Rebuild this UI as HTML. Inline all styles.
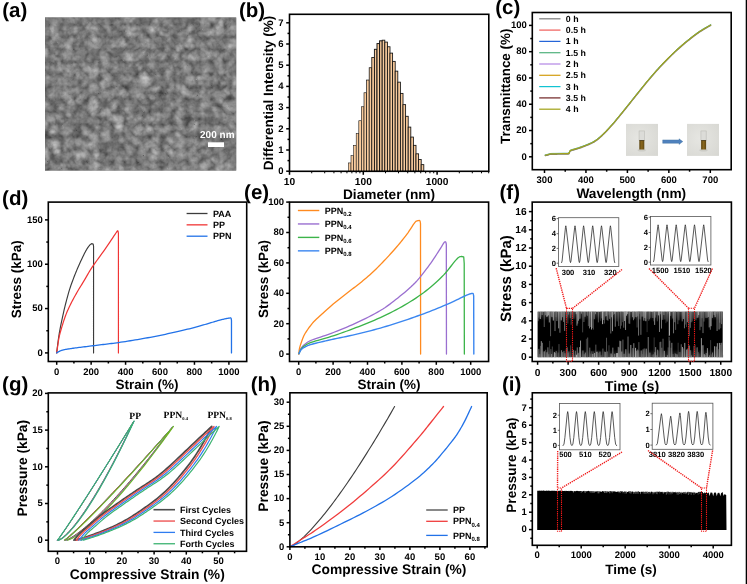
<!DOCTYPE html>
<html><head><meta charset="utf-8"><title>figure</title>
<style>
html,body{margin:0;padding:0;background:#fff;}
body{width:747px;height:584px;overflow:hidden;font-family:"Liberation Sans",sans-serif;}
svg{display:block;opacity:0.999;text-rendering:geometricPrecision;font-family:"Liberation Sans",sans-serif;}
</style></head><body>
<svg width="747" height="584" viewBox="0 0 747 584">
<rect width="747" height="584" fill="#fff"/>
<defs>
<filter id="sem" x="0" y="0" width="100%" height="100%" color-interpolation-filters="sRGB">
  <feTurbulence type="turbulence" baseFrequency="0.08" numOctaves="2" seed="23" result="t"/>
  <feColorMatrix in="t" type="matrix" values="0.42 0.42 0 0 0.27  0.42 0.42 0 0 0.27  0.42 0.42 0 0 0.27  0 0 0 0 1" result="tc"/>
  <feTurbulence type="fractalNoise" baseFrequency="0.12" numOctaves="3" seed="11" result="n"/>
  <feColorMatrix in="n" type="matrix" values="0.44 0.44 0 0 0.03  0.44 0.44 0 0 0.03  0.44 0.44 0 0 0.03  0 0 0 0 1" result="nc"/>
  <feComposite in="tc" in2="nc" operator="arithmetic" k1="0" k2="0.53" k3="0.61" k4="-0.06"/>
  <feGaussianBlur stdDeviation="0.65"/>
</filter>
<clipPath id="semclip"><rect x="45" y="17.5" width="191.2" height="153"/></clipPath>
</defs>
<rect x="45" y="17.5" width="191.2" height="153" fill="#777"/>
<rect x="45" y="17.5" width="191.2" height="153" filter="url(#sem)" clip-path="url(#semclip)"/>
<text x="217.3" y="137.8" font-size="10" text-anchor="middle" font-weight="bold" fill="#fff" >200 nm</text>
<rect x="208" y="142.3" width="16" height="4.7" fill="#fff"/>
<text x="2.2" y="16.9" font-size="20.5" text-anchor="start" font-weight="bold" fill="#000" >(a)</text>
<rect x="348.4" y="162.93" width="2.6" height="8.37" fill="#f8cb9d" stroke="#111" stroke-width="0.55"/>
<rect x="351" y="155.72" width="2.6" height="15.58" fill="#f8cb9d" stroke="#111" stroke-width="0.55"/>
<rect x="353.6" y="145.34" width="2.6" height="25.96" fill="#f8cb9d" stroke="#111" stroke-width="0.56"/>
<rect x="356.2" y="133.68" width="2.6" height="37.62" fill="#f8cb9d" stroke="#111" stroke-width="0.56"/>
<rect x="358.8" y="120.74" width="2.6" height="50.56" fill="#f8cb9d" stroke="#111" stroke-width="0.58"/>
<rect x="361.4" y="106.75" width="2.6" height="64.55" fill="#f8cb9d" stroke="#111" stroke-width="0.6"/>
<rect x="364" y="92.76" width="2.6" height="78.54" fill="#f8cb9d" stroke="#111" stroke-width="0.63"/>
<rect x="366.6" y="80.04" width="2.6" height="91.26" fill="#f8cb9d" stroke="#111" stroke-width="0.68"/>
<rect x="369.2" y="67.74" width="2.6" height="103.56" fill="#f8cb9d" stroke="#111" stroke-width="0.75"/>
<rect x="371.8" y="57.57" width="2.6" height="113.73" fill="#f8cb9d" stroke="#111" stroke-width="0.83"/>
<rect x="374.4" y="49.3" width="2.6" height="122" fill="#f8cb9d" stroke="#111" stroke-width="0.9"/>
<rect x="377" y="43.58" width="2.6" height="127.72" fill="#f8cb9d" stroke="#111" stroke-width="0.96"/>
<rect x="379.6" y="40.82" width="2.6" height="130.48" fill="#f8cb9d" stroke="#111" stroke-width="1"/>
<rect x="382.2" y="40.18" width="2.6" height="131.12" fill="#f8cb9d" stroke="#111" stroke-width="0.85"/>
<rect x="384.8" y="42.09" width="2.6" height="129.21" fill="#f8cb9d" stroke="#111" stroke-width="0.85"/>
<rect x="387.4" y="46.76" width="2.6" height="124.54" fill="#f8cb9d" stroke="#111" stroke-width="0.85"/>
<rect x="390" y="53.12" width="2.6" height="118.18" fill="#f8cb9d" stroke="#111" stroke-width="0.85"/>
<rect x="392.6" y="61.38" width="2.6" height="109.92" fill="#f8cb9d" stroke="#111" stroke-width="0.85"/>
<rect x="395.2" y="71.14" width="2.6" height="100.16" fill="#f8cb9d" stroke="#111" stroke-width="0.85"/>
<rect x="397.8" y="82.16" width="2.6" height="89.14" fill="#f8cb9d" stroke="#111" stroke-width="0.85"/>
<rect x="400.4" y="93.4" width="2.6" height="77.9" fill="#f8cb9d" stroke="#111" stroke-width="0.85"/>
<rect x="403" y="104.63" width="2.6" height="66.67" fill="#f8cb9d" stroke="#111" stroke-width="0.85"/>
<rect x="405.6" y="116.29" width="2.6" height="55.01" fill="#f8cb9d" stroke="#111" stroke-width="0.85"/>
<rect x="408.2" y="127.1" width="2.6" height="44.2" fill="#f8cb9d" stroke="#111" stroke-width="0.85"/>
<rect x="410.8" y="137.07" width="2.6" height="34.23" fill="#f8cb9d" stroke="#111" stroke-width="0.85"/>
<rect x="413.4" y="145.34" width="2.6" height="25.96" fill="#f8cb9d" stroke="#111" stroke-width="0.85"/>
<rect x="416" y="153.82" width="2.6" height="17.48" fill="#f8cb9d" stroke="#111" stroke-width="0.85"/>
<rect x="418.6" y="159.54" width="2.6" height="11.76" fill="#f8cb9d" stroke="#111" stroke-width="0.85"/>
<rect x="421.2" y="164.63" width="2.6" height="6.67" fill="#f8cb9d" stroke="#111" stroke-width="0.85"/>
<rect x="289.5" y="14.3" width="199.3" height="157" fill="none" stroke="#000" stroke-width="1.6"/>
<line x1="286.2" y1="171.2" x2="289.5" y2="171.2" stroke="#000" stroke-width="1.5" />
<line x1="286.2" y1="150" x2="289.5" y2="150" stroke="#000" stroke-width="1.5" />
<line x1="286.2" y1="128.8" x2="289.5" y2="128.8" stroke="#000" stroke-width="1.5" />
<line x1="286.2" y1="107.6" x2="289.5" y2="107.6" stroke="#000" stroke-width="1.5" />
<line x1="286.2" y1="86.4" x2="289.5" y2="86.4" stroke="#000" stroke-width="1.5" />
<line x1="286.2" y1="65.2" x2="289.5" y2="65.2" stroke="#000" stroke-width="1.5" />
<line x1="286.2" y1="44" x2="289.5" y2="44" stroke="#000" stroke-width="1.5" />
<line x1="286.2" y1="22.8" x2="289.5" y2="22.8" stroke="#000" stroke-width="1.5" />
<line x1="287.5" y1="160.6" x2="289.5" y2="160.6" stroke="#000" stroke-width="1.5" />
<line x1="287.5" y1="139.4" x2="289.5" y2="139.4" stroke="#000" stroke-width="1.5" />
<line x1="287.5" y1="118.2" x2="289.5" y2="118.2" stroke="#000" stroke-width="1.5" />
<line x1="287.5" y1="97" x2="289.5" y2="97" stroke="#000" stroke-width="1.5" />
<line x1="287.5" y1="75.8" x2="289.5" y2="75.8" stroke="#000" stroke-width="1.5" />
<line x1="287.5" y1="54.6" x2="289.5" y2="54.6" stroke="#000" stroke-width="1.5" />
<line x1="287.5" y1="33.4" x2="289.5" y2="33.4" stroke="#000" stroke-width="1.5" />
<line x1="289.5" y1="171.3" x2="289.5" y2="174.8" stroke="#000" stroke-width="1.5" />
<line x1="363.3" y1="171.3" x2="363.3" y2="174.8" stroke="#000" stroke-width="1.5" />
<line x1="437.1" y1="171.3" x2="437.1" y2="174.8" stroke="#000" stroke-width="1.5" />
<line x1="311.72" y1="171.3" x2="311.72" y2="173.3" stroke="#000" stroke-width="1.0" />
<line x1="324.71" y1="171.3" x2="324.71" y2="173.3" stroke="#000" stroke-width="1.0" />
<line x1="333.93" y1="171.3" x2="333.93" y2="173.3" stroke="#000" stroke-width="1.0" />
<line x1="341.08" y1="171.3" x2="341.08" y2="173.3" stroke="#000" stroke-width="1.0" />
<line x1="346.93" y1="171.3" x2="346.93" y2="173.3" stroke="#000" stroke-width="1.0" />
<line x1="351.87" y1="171.3" x2="351.87" y2="173.3" stroke="#000" stroke-width="1.0" />
<line x1="356.15" y1="171.3" x2="356.15" y2="173.3" stroke="#000" stroke-width="1.0" />
<line x1="359.92" y1="171.3" x2="359.92" y2="173.3" stroke="#000" stroke-width="1.0" />
<line x1="385.52" y1="171.3" x2="385.52" y2="173.3" stroke="#000" stroke-width="1.0" />
<line x1="398.51" y1="171.3" x2="398.51" y2="173.3" stroke="#000" stroke-width="1.0" />
<line x1="407.73" y1="171.3" x2="407.73" y2="173.3" stroke="#000" stroke-width="1.0" />
<line x1="414.88" y1="171.3" x2="414.88" y2="173.3" stroke="#000" stroke-width="1.0" />
<line x1="420.73" y1="171.3" x2="420.73" y2="173.3" stroke="#000" stroke-width="1.0" />
<line x1="425.67" y1="171.3" x2="425.67" y2="173.3" stroke="#000" stroke-width="1.0" />
<line x1="429.95" y1="171.3" x2="429.95" y2="173.3" stroke="#000" stroke-width="1.0" />
<line x1="433.72" y1="171.3" x2="433.72" y2="173.3" stroke="#000" stroke-width="1.0" />
<line x1="459.32" y1="171.3" x2="459.32" y2="173.3" stroke="#000" stroke-width="1.0" />
<line x1="472.31" y1="171.3" x2="472.31" y2="173.3" stroke="#000" stroke-width="1.0" />
<line x1="481.53" y1="171.3" x2="481.53" y2="173.3" stroke="#000" stroke-width="1.0" />
<line x1="488.68" y1="171.3" x2="488.68" y2="173.3" stroke="#000" stroke-width="1.0" />
<text x="283.5" y="174" font-size="9.5" text-anchor="end" font-weight="bold" fill="#000" >0</text>
<text x="283.5" y="152.8" font-size="9.5" text-anchor="end" font-weight="bold" fill="#000" >1</text>
<text x="283.5" y="131.6" font-size="9.5" text-anchor="end" font-weight="bold" fill="#000" >2</text>
<text x="283.5" y="110.4" font-size="9.5" text-anchor="end" font-weight="bold" fill="#000" >3</text>
<text x="283.5" y="89.2" font-size="9.5" text-anchor="end" font-weight="bold" fill="#000" >4</text>
<text x="283.5" y="68" font-size="9.5" text-anchor="end" font-weight="bold" fill="#000" >5</text>
<text x="283.5" y="46.8" font-size="9.5" text-anchor="end" font-weight="bold" fill="#000" >6</text>
<text x="283.5" y="25.6" font-size="9.5" text-anchor="end" font-weight="bold" fill="#000" >7</text>
<text x="289.5" y="184.7" font-size="10.2" text-anchor="middle" font-weight="bold" fill="#000" >10</text>
<text x="363.3" y="184.7" font-size="10.2" text-anchor="middle" font-weight="bold" fill="#000" >100</text>
<text x="437.1" y="184.7" font-size="10.2" text-anchor="middle" font-weight="bold" fill="#000" >1000</text>
<text transform="translate(272.6 93) rotate(-90)" font-size="13.5" text-anchor="middle" font-weight="bold">Differential Intensity (%)</text>
<text x="389" y="199.1" font-size="13.7" text-anchor="middle" font-weight="bold" fill="#000" >Diameter (nm)</text>
<text x="238.9" y="16.8" font-size="20.5" text-anchor="start" font-weight="bold" fill="#000" >(b)</text>
<path d="M545.14 155.72 L545.42 155.66 L545.8 155.59 L546.26 155.51 L546.75 155.41 L547.25 155.31 L547.7 155.2 L548.1 155.08 L548.47 154.94 L548.83 154.79 L549.23 154.65 L549.7 154.53 L550.27 154.43 L550.95 154.37 L551.7 154.34 L552.52 154.33 L553.41 154.32 L554.37 154.32 L555.41 154.3 L556.57 154.28 L557.88 154.26 L559.26 154.24 L560.64 154.22 L561.95 154.2 L563.11 154.17 L564.16 154.16 L565.17 154.16 L566.1 154.16 L566.94 154.15 L567.66 154.11 L568.25 154.05 L568.66 153.95 L568.9 153.85 L569.02 153.72 L569.09 153.56 L569.15 153.37 L569.28 153.15 L569.42 152.86 L569.54 152.51 L569.66 152.13 L569.81 151.74 L570.01 151.39 L570.3 151.09 L570.67 150.87 L571.1 150.69 L571.59 150.55 L572.13 150.41 L572.73 150.26 L573.38 150.07 L574.08 149.86 L574.8 149.66 L575.58 149.44 L576.45 149.19 L577.42 148.89 L578.52 148.53 L579.81 148.08 L581.28 147.56 L582.85 147 L584.47 146.4 L586.04 145.79 L587.51 145.19 L588.87 144.6 L590.17 144.04 L591.44 143.45 L592.69 142.83 L593.94 142.13 L595.21 141.33 L596.48 140.45 L597.73 139.5 L598.98 138.48 L600.25 137.38 L601.56 136.19 L602.92 134.91 L604.33 133.54 L605.77 132.08 L607.25 130.53 L608.77 128.9 L610.32 127.2 L611.91 125.41 L613.54 123.53 L615.23 121.53 L616.96 119.46 L618.71 117.34 L620.45 115.2 L622.18 113.09 L623.89 110.98 L625.6 108.84 L627.31 106.7 L629.03 104.54 L630.74 102.39 L632.45 100.25 L634.16 98.1 L635.87 95.95 L637.59 93.79 L639.3 91.65 L641.01 89.52 L642.72 87.41 L644.43 85.31 L646.15 83.22 L647.86 81.15 L649.57 79.09 L651.28 77.07 L652.99 75.08 L654.71 73.12 L656.42 71.2 L658.13 69.3 L659.84 67.43 L661.55 65.59 L663.27 63.78 L664.98 62 L666.69 60.24 L668.4 58.51 L670.11 56.82 L671.83 55.15 L673.54 53.51 L675.25 51.9 L676.96 50.31 L678.67 48.76 L680.39 47.23 L682.1 45.73 L683.81 44.26 L685.55 42.8 L687.33 41.34 L689.11 39.91 L690.85 38.54 L692.52 37.24 L694.08 36.04 L695.5 34.98 L696.79 34.03 L698.02 33.16 L699.22 32.33 L700.46 31.5 L701.79 30.65 L703.32 29.72 L705.02 28.73 L706.76 27.75 L708.4 26.84 L709.78 26.07 L710.78 25.52" fill="none" stroke="#7a7a7a" stroke-width="1.2" stroke-linejoin="round" stroke-linecap="round" />
<path d="M545.14 154.82 L545.42 154.76 L545.8 154.69 L546.26 154.61 L546.75 154.51 L547.25 154.41 L547.7 154.3 L548.1 154.18 L548.47 154.04 L548.83 153.89 L549.23 153.75 L549.7 153.63 L550.27 153.53 L550.95 153.47 L551.7 153.44 L552.52 153.43 L553.41 153.42 L554.37 153.42 L555.41 153.4 L556.57 153.38 L557.88 153.36 L559.26 153.34 L560.64 153.32 L561.95 153.3 L563.11 153.27 L564.16 153.26 L565.17 153.26 L566.1 153.26 L566.94 153.25 L567.66 153.21 L568.25 153.15 L568.66 153.05 L568.9 152.95 L569.02 152.82 L569.09 152.66 L569.15 152.47 L569.28 152.25 L569.42 151.96 L569.54 151.61 L569.66 151.23 L569.81 150.84 L570.01 150.49 L570.3 150.19 L570.67 149.97 L571.1 149.79 L571.59 149.65 L572.13 149.51 L572.73 149.36 L573.38 149.17 L574.08 148.96 L574.8 148.76 L575.58 148.54 L576.45 148.29 L577.42 147.99 L578.52 147.63 L579.81 147.18 L581.28 146.66 L582.85 146.1 L584.47 145.5 L586.04 144.89 L587.51 144.29 L588.87 143.7 L590.17 143.14 L591.44 142.55 L592.69 141.93 L593.94 141.23 L595.21 140.43 L596.48 139.55 L597.73 138.6 L598.98 137.58 L600.25 136.48 L601.56 135.29 L602.92 134.01 L604.33 132.64 L605.77 131.18 L607.25 129.63 L608.77 128 L610.32 126.3 L611.91 124.51 L613.54 122.63 L615.23 120.63 L616.96 118.56 L618.71 116.44 L620.45 114.3 L622.18 112.19 L623.89 110.08 L625.6 107.94 L627.31 105.8 L629.03 103.64 L630.74 101.49 L632.45 99.35 L634.16 97.2 L635.87 95.05 L637.59 92.89 L639.3 90.75 L641.01 88.62 L642.72 86.51 L644.43 84.41 L646.15 82.32 L647.86 80.25 L649.57 78.19 L651.28 76.17 L652.99 74.18 L654.71 72.22 L656.42 70.3 L658.13 68.4 L659.84 66.53 L661.55 64.69 L663.27 62.88 L664.98 61.1 L666.69 59.34 L668.4 57.61 L670.11 55.92 L671.83 54.25 L673.54 52.61 L675.25 51 L676.96 49.41 L678.67 47.86 L680.39 46.33 L682.1 44.83 L683.81 43.36 L685.55 41.9 L687.33 40.44 L689.11 39.01 L690.85 37.64 L692.52 36.34 L694.08 35.14 L695.5 34.08 L696.79 33.13 L698.02 32.26 L699.22 31.43 L700.46 30.6 L701.79 29.75 L703.32 28.82 L705.02 27.83 L706.76 26.85 L708.4 25.94 L709.78 25.17 L710.78 24.62" fill="none" stroke="#35a0a0" stroke-width="1.0" stroke-linejoin="round" stroke-linecap="round" />
<path d="M545.14 155.22 L545.42 155.16 L545.8 155.09 L546.26 155.01 L546.75 154.91 L547.25 154.81 L547.7 154.7 L548.1 154.58 L548.47 154.44 L548.83 154.29 L549.23 154.15 L549.7 154.03 L550.27 153.93 L550.95 153.87 L551.7 153.84 L552.52 153.83 L553.41 153.82 L554.37 153.82 L555.41 153.8 L556.57 153.78 L557.88 153.76 L559.26 153.74 L560.64 153.72 L561.95 153.7 L563.11 153.67 L564.16 153.66 L565.17 153.66 L566.1 153.66 L566.94 153.65 L567.66 153.61 L568.25 153.55 L568.66 153.45 L568.9 153.35 L569.02 153.22 L569.09 153.06 L569.15 152.87 L569.28 152.65 L569.42 152.36 L569.54 152.01 L569.66 151.63 L569.81 151.24 L570.01 150.89 L570.3 150.59 L570.67 150.37 L571.1 150.19 L571.59 150.05 L572.13 149.91 L572.73 149.76 L573.38 149.57 L574.08 149.36 L574.8 149.16 L575.58 148.94 L576.45 148.69 L577.42 148.39 L578.52 148.03 L579.81 147.58 L581.28 147.06 L582.85 146.5 L584.47 145.9 L586.04 145.29 L587.51 144.69 L588.87 144.1 L590.17 143.54 L591.44 142.95 L592.69 142.33 L593.94 141.63 L595.21 140.83 L596.48 139.95 L597.73 139 L598.98 137.98 L600.25 136.88 L601.56 135.69 L602.92 134.41 L604.33 133.04 L605.77 131.58 L607.25 130.03 L608.77 128.4 L610.32 126.7 L611.91 124.91 L613.54 123.03 L615.23 121.03 L616.96 118.96 L618.71 116.84 L620.45 114.7 L622.18 112.59 L623.89 110.48 L625.6 108.34 L627.31 106.2 L629.03 104.04 L630.74 101.89 L632.45 99.75 L634.16 97.6 L635.87 95.45 L637.59 93.29 L639.3 91.15 L641.01 89.02 L642.72 86.91 L644.43 84.81 L646.15 82.72 L647.86 80.65 L649.57 78.59 L651.28 76.57 L652.99 74.58 L654.71 72.62 L656.42 70.7 L658.13 68.8 L659.84 66.93 L661.55 65.09 L663.27 63.28 L664.98 61.5 L666.69 59.74 L668.4 58.01 L670.11 56.32 L671.83 54.65 L673.54 53.01 L675.25 51.4 L676.96 49.81 L678.67 48.26 L680.39 46.73 L682.1 45.23 L683.81 43.76 L685.55 42.3 L687.33 40.84 L689.11 39.41 L690.85 38.04 L692.52 36.74 L694.08 35.54 L695.5 34.48 L696.79 33.53 L698.02 32.66 L699.22 31.83 L700.46 31 L701.79 30.15 L703.32 29.22 L705.02 28.23 L706.76 27.25 L708.4 26.34 L709.78 25.57 L710.78 25.02" fill="none" stroke="#a3a41c" stroke-width="1.2" stroke-linejoin="round" stroke-linecap="round" />
<rect x="532.3" y="12.5" width="198.9" height="157.2" fill="none" stroke="#000" stroke-width="1.6"/>
<line x1="529" y1="156.8" x2="532.3" y2="156.8" stroke="#000" stroke-width="1.5" />
<line x1="529" y1="130.52" x2="532.3" y2="130.52" stroke="#000" stroke-width="1.5" />
<line x1="529" y1="104.24" x2="532.3" y2="104.24" stroke="#000" stroke-width="1.5" />
<line x1="529" y1="77.96" x2="532.3" y2="77.96" stroke="#000" stroke-width="1.5" />
<line x1="529" y1="51.68" x2="532.3" y2="51.68" stroke="#000" stroke-width="1.5" />
<line x1="529" y1="25.4" x2="532.3" y2="25.4" stroke="#000" stroke-width="1.5" />
<line x1="530.3" y1="143.66" x2="532.3" y2="143.66" stroke="#000" stroke-width="1.5" />
<line x1="530.3" y1="117.38" x2="532.3" y2="117.38" stroke="#000" stroke-width="1.5" />
<line x1="530.3" y1="91.1" x2="532.3" y2="91.1" stroke="#000" stroke-width="1.5" />
<line x1="530.3" y1="64.82" x2="532.3" y2="64.82" stroke="#000" stroke-width="1.5" />
<line x1="530.3" y1="38.54" x2="532.3" y2="38.54" stroke="#000" stroke-width="1.5" />
<line x1="544.5" y1="169.7" x2="544.5" y2="173" stroke="#000" stroke-width="1.5" />
<line x1="585.95" y1="169.7" x2="585.95" y2="173" stroke="#000" stroke-width="1.5" />
<line x1="627.4" y1="169.7" x2="627.4" y2="173" stroke="#000" stroke-width="1.5" />
<line x1="668.85" y1="169.7" x2="668.85" y2="173" stroke="#000" stroke-width="1.5" />
<line x1="710.3" y1="169.7" x2="710.3" y2="173" stroke="#000" stroke-width="1.5" />
<line x1="565.23" y1="169.7" x2="565.23" y2="171.7" stroke="#000" stroke-width="1.5" />
<line x1="606.67" y1="169.7" x2="606.67" y2="171.7" stroke="#000" stroke-width="1.5" />
<line x1="648.12" y1="169.7" x2="648.12" y2="171.7" stroke="#000" stroke-width="1.5" />
<line x1="689.58" y1="169.7" x2="689.58" y2="171.7" stroke="#000" stroke-width="1.5" />
<text x="526.8" y="159.6" font-size="9.5" text-anchor="end" font-weight="bold" fill="#000" >0</text>
<text x="526.8" y="133.32" font-size="9.5" text-anchor="end" font-weight="bold" fill="#000" >20</text>
<text x="526.8" y="107.04" font-size="9.5" text-anchor="end" font-weight="bold" fill="#000" >40</text>
<text x="526.8" y="80.76" font-size="9.5" text-anchor="end" font-weight="bold" fill="#000" >60</text>
<text x="526.8" y="54.48" font-size="9.5" text-anchor="end" font-weight="bold" fill="#000" >80</text>
<text x="526.8" y="28.2" font-size="9.5" text-anchor="end" font-weight="bold" fill="#000" >100</text>
<text x="544.5" y="182.6" font-size="9.5" text-anchor="middle" font-weight="bold" fill="#000" >300</text>
<text x="585.95" y="182.6" font-size="9.5" text-anchor="middle" font-weight="bold" fill="#000" >400</text>
<text x="627.4" y="182.6" font-size="9.5" text-anchor="middle" font-weight="bold" fill="#000" >500</text>
<text x="668.85" y="182.6" font-size="9.5" text-anchor="middle" font-weight="bold" fill="#000" >600</text>
<text x="710.3" y="182.6" font-size="9.5" text-anchor="middle" font-weight="bold" fill="#000" >700</text>
<text transform="translate(510.4 86.3) rotate(-90)" font-size="13.4" text-anchor="middle" font-weight="bold">Transmittance (%)</text>
<text x="631.3" y="198.1" font-size="13.7" text-anchor="middle" font-weight="bold" fill="#000" >Wavelength (nm)</text>
<text x="495.2" y="13.8" font-size="20.5" text-anchor="start" font-weight="bold" fill="#000" >(c)</text>
<line x1="539.2" y1="18.8" x2="560.5" y2="18.8" stroke="#808080" stroke-width="1.25" />
<text x="565.8" y="21.8" font-size="8.8" text-anchor="start" font-weight="bold" fill="#000" >0 h</text>
<line x1="539.2" y1="30.1" x2="560.5" y2="30.1" stroke="#f0625f" stroke-width="1.25" />
<text x="565.8" y="33.1" font-size="8.8" text-anchor="start" font-weight="bold" fill="#000" >0.5 h</text>
<line x1="539.2" y1="41.4" x2="560.5" y2="41.4" stroke="#2565d8" stroke-width="1.25" />
<text x="565.8" y="44.4" font-size="8.8" text-anchor="start" font-weight="bold" fill="#000" >1 h</text>
<line x1="539.2" y1="52.7" x2="560.5" y2="52.7" stroke="#56b381" stroke-width="1.25" />
<text x="565.8" y="55.7" font-size="8.8" text-anchor="start" font-weight="bold" fill="#000" >1.5 h</text>
<line x1="539.2" y1="64" x2="560.5" y2="64" stroke="#b58ae6" stroke-width="1.25" />
<text x="565.8" y="67" font-size="8.8" text-anchor="start" font-weight="bold" fill="#000" >2 h</text>
<line x1="539.2" y1="75.3" x2="560.5" y2="75.3" stroke="#d4a017" stroke-width="1.25" />
<text x="565.8" y="78.3" font-size="8.8" text-anchor="start" font-weight="bold" fill="#000" >2.5 h</text>
<line x1="539.2" y1="86.6" x2="560.5" y2="86.6" stroke="#12c3d2" stroke-width="1.25" />
<text x="565.8" y="89.6" font-size="8.8" text-anchor="start" font-weight="bold" fill="#000" >3 h</text>
<line x1="539.2" y1="97.9" x2="560.5" y2="97.9" stroke="#742a2a" stroke-width="1.25" />
<text x="565.8" y="100.9" font-size="8.8" text-anchor="start" font-weight="bold" fill="#000" >3.5 h</text>
<line x1="539.2" y1="109.2" x2="560.5" y2="109.2" stroke="#a3a41c" stroke-width="1.25" />
<text x="565.8" y="112.2" font-size="8.8" text-anchor="start" font-weight="bold" fill="#000" >4 h</text>
<defs><radialGradient id="pg" cx="0.4" cy="0.45" r="0.85"><stop offset="0" stop-color="#e6e6e2"/><stop offset="1" stop-color="#d6d6d1"/></radialGradient><linearGradient id="lq" x1="0" y1="0" x2="1" y2="0"><stop offset="0" stop-color="#5e4713"/><stop offset="0.5" stop-color="#8a671d"/><stop offset="1" stop-color="#5e4713"/></linearGradient></defs>
<rect x="626" y="123.9" width="32" height="32" fill="url(#pg)"/>
<ellipse cx="641.7" cy="150.3" rx="4.2" ry="1.3" fill="#c4c4bd" opacity="0.7"/>
<path d="M639.1 140.5 V130.9 H644.5 V140.5" fill="#dcdcd8" stroke="#b9b9b3" stroke-width="0.55"/>
<rect x="639.3" y="140.5" width="5.0" height="9.0" fill="url(#lq)"/>
<rect x="639.3" y="140.0" width="5.0" height="0.9" fill="#4e3f1c"/>
<rect x="687" y="123.9" width="32" height="32" fill="url(#pg)"/>
<ellipse cx="703.5" cy="150.3" rx="4.2" ry="1.3" fill="#c4c4bd" opacity="0.7"/>
<path d="M700.9 140.5 V130.9 H706.3 V140.5" fill="#dcdcd8" stroke="#b9b9b3" stroke-width="0.55"/>
<rect x="701.1" y="140.5" width="5.0" height="9.0" fill="url(#lq)"/>
<rect x="701.1" y="140.0" width="5.0" height="0.9" fill="#4e3f1c"/>
<path d="M662.7 139.9 H679 V138.8 L682.8 141.6 L679 144.4 V143.3 H662.7 Z" fill="#4f81bd" stroke="#41719f" stroke-width="0.4"/>
<path d="M56.7 352.9 L56.77 352.25 L56.87 351.41 L56.97 350.42 L57.1 349.3 L57.24 348.08 L57.39 346.79 L57.56 345.45 L57.73 344.1 L57.92 342.73 L58.11 341.31 L58.3 339.82 L58.52 338.28 L58.75 336.66 L59.01 334.97 L59.3 333.2 L59.63 331.35 L60 329.36 L60.41 327.21 L60.86 324.95 L61.34 322.64 L61.82 320.31 L62.31 318.02 L62.79 315.82 L63.24 313.76 L63.68 311.82 L64.11 309.95 L64.54 308.14 L64.97 306.39 L65.4 304.67 L65.82 302.99 L66.25 301.33 L66.69 299.68 L67.11 298.08 L67.52 296.54 L67.93 295.04 L68.34 293.57 L68.76 292.1 L69.21 290.6 L69.69 289.06 L70.22 287.46 L70.79 285.77 L71.41 284.03 L72.06 282.24 L72.73 280.43 L73.42 278.61 L74.11 276.82 L74.8 275.07 L75.47 273.38 L76.13 271.75 L76.8 270.14 L77.47 268.56 L78.14 267 L78.82 265.47 L79.48 263.98 L80.15 262.51 L80.81 261.07 L81.47 259.64 L82.15 258.2 L82.83 256.78 L83.5 255.4 L84.16 254.07 L84.8 252.81 L85.41 251.65 L85.97 250.6 L86.51 249.67 L87.01 248.83 L87.49 248.08 L87.95 247.41 L88.38 246.81 L88.79 246.27 L89.17 245.78 L89.54 245.32 L89.89 244.93 L90.22 244.61 L90.53 244.36 L90.82 244.16 L91.08 244 L91.31 243.87 L91.5 243.76 L91.66 243.65 L93.15 243.95 L93.55 246.15 L93.55 352.9" fill="none" stroke="#3c3c3c" stroke-width="1.15" stroke-linejoin="round" stroke-linecap="round" />
<path d="M56.7 352.9 L56.77 352.38 L56.87 351.73 L56.97 350.95 L57.1 350.07 L57.24 349.11 L57.39 348.07 L57.56 346.98 L57.73 345.86 L57.91 344.72 L58.07 343.53 L58.23 342.29 L58.41 340.98 L58.63 339.58 L58.89 338.1 L59.22 336.5 L59.63 334.78 L60.13 332.86 L60.72 330.73 L61.38 328.46 L62.09 326.1 L62.82 323.74 L63.56 321.44 L64.28 319.26 L64.97 317.28 L65.61 315.49 L66.24 313.85 L66.87 312.3 L67.49 310.83 L68.13 309.4 L68.79 307.96 L69.48 306.49 L70.22 304.96 L71.01 303.37 L71.84 301.74 L72.7 300.1 L73.59 298.45 L74.49 296.81 L75.4 295.19 L76.3 293.59 L77.19 292.03 L78.07 290.53 L78.93 289.07 L79.8 287.64 L80.67 286.23 L81.55 284.82 L82.44 283.39 L83.34 281.93 L84.25 280.42 L85.15 278.9 L86.01 277.39 L86.87 275.89 L87.74 274.35 L88.66 272.75 L89.66 271.08 L90.76 269.3 L92 267.4 L93.41 265.33 L94.99 263.09 L96.68 260.73 L98.45 258.3 L100.24 255.85 L102 253.42 L103.69 251.07 L105.26 248.84 L106.78 246.64 L108.33 244.37 L109.85 242.11 L111.33 239.9 L112.72 237.83 L113.97 235.95 L115.06 234.32 L115.94 233.01 L116.58 232.07 L117 231.45 L117.25 231.09 L117.38 230.92 L117.42 230.88 L117.42 230.89 L117.43 230.89 L117.49 230.81 L118.03 231.11 L118.43 233.31 L118.43 352.9" fill="none" stroke="#f03434" stroke-width="1.2" stroke-linejoin="round" stroke-linecap="round" />
<path d="M56.7 352.9 L56.82 352.82 L56.98 352.72 L57.16 352.6 L57.37 352.46 L57.61 352.31 L57.86 352.16 L58.13 352 L58.42 351.84 L58.73 351.68 L59.06 351.51 L59.42 351.32 L59.79 351.14 L60.19 350.95 L60.59 350.77 L61.01 350.59 L61.44 350.44 L61.87 350.29 L62.32 350.16 L62.78 350.03 L63.25 349.91 L63.74 349.8 L64.25 349.69 L64.77 349.58 L65.31 349.47 L65.85 349.37 L66.37 349.27 L66.9 349.18 L67.45 349.09 L68.04 349 L68.69 348.9 L69.41 348.8 L70.22 348.68 L71.11 348.55 L72.08 348.41 L73.11 348.26 L74.19 348.11 L75.34 347.95 L76.54 347.78 L77.79 347.62 L79.09 347.45 L80.44 347.27 L81.87 347.1 L83.36 346.91 L84.9 346.73 L86.48 346.54 L88.08 346.34 L89.7 346.15 L91.31 345.95 L92.95 345.75 L94.61 345.55 L96.31 345.34 L98.02 345.13 L99.74 344.92 L101.47 344.71 L103.2 344.49 L104.92 344.28 L106.59 344.07 L108.23 343.88 L109.84 343.68 L111.47 343.48 L113.14 343.27 L114.88 343.05 L116.72 342.8 L118.69 342.52 L120.8 342.21 L123.03 341.88 L125.36 341.52 L127.75 341.15 L130.2 340.76 L132.68 340.36 L135.17 339.95 L137.63 339.53 L140.12 339.11 L142.64 338.67 L145.2 338.22 L147.77 337.76 L150.35 337.29 L152.91 336.81 L155.45 336.33 L157.95 335.84 L160.44 335.33 L162.93 334.81 L165.41 334.27 L167.88 333.73 L170.31 333.19 L172.68 332.65 L175 332.12 L177.24 331.61 L179.4 331.12 L181.5 330.64 L183.54 330.16 L185.53 329.69 L187.47 329.23 L189.37 328.77 L191.24 328.3 L193.08 327.83 L194.89 327.36 L196.66 326.88 L198.39 326.39 L200.09 325.91 L201.75 325.44 L203.37 324.96 L204.96 324.5 L206.51 324.05 L208.05 323.6 L209.57 323.15 L211.06 322.69 L212.52 322.25 L213.92 321.82 L215.26 321.42 L216.53 321.05 L217.71 320.71 L218.8 320.4 L219.81 320.13 L220.75 319.88 L221.62 319.66 L222.44 319.46 L223.2 319.28 L223.92 319.11 L224.59 318.95 L225.21 318.81 L225.76 318.69 L226.24 318.59 L226.68 318.51 L227.09 318.44 L227.47 318.37 L227.84 318.31 L228.21 318.24 L228.59 318.18 L228.96 318.12 L229.31 318.07 L229.64 318.02 L229.95 317.98 L230.22 317.95 L230.44 317.92 L230.62 317.89 L231.08 318.19 L231.48 320.39 L231.48 352.9" fill="none" stroke="#2272e8" stroke-width="1.3" stroke-linejoin="round" stroke-linecap="round" />
<rect x="48.3" y="202.1" width="198.4" height="159.4" fill="none" stroke="#000" stroke-width="1.6"/>
<line x1="45" y1="352.9" x2="48.3" y2="352.9" stroke="#000" stroke-width="1.5" />
<line x1="45" y1="308.56" x2="48.3" y2="308.56" stroke="#000" stroke-width="1.5" />
<line x1="45" y1="264.23" x2="48.3" y2="264.23" stroke="#000" stroke-width="1.5" />
<line x1="45" y1="219.89" x2="48.3" y2="219.89" stroke="#000" stroke-width="1.5" />
<line x1="46.3" y1="330.73" x2="48.3" y2="330.73" stroke="#000" stroke-width="1.5" />
<line x1="46.3" y1="286.4" x2="48.3" y2="286.4" stroke="#000" stroke-width="1.5" />
<line x1="46.3" y1="242.06" x2="48.3" y2="242.06" stroke="#000" stroke-width="1.5" />
<line x1="56.7" y1="361.5" x2="56.7" y2="364.8" stroke="#000" stroke-width="1.5" />
<line x1="91.14" y1="361.5" x2="91.14" y2="364.8" stroke="#000" stroke-width="1.5" />
<line x1="125.58" y1="361.5" x2="125.58" y2="364.8" stroke="#000" stroke-width="1.5" />
<line x1="160.02" y1="361.5" x2="160.02" y2="364.8" stroke="#000" stroke-width="1.5" />
<line x1="194.46" y1="361.5" x2="194.46" y2="364.8" stroke="#000" stroke-width="1.5" />
<line x1="228.9" y1="361.5" x2="228.9" y2="364.8" stroke="#000" stroke-width="1.5" />
<line x1="73.92" y1="361.5" x2="73.92" y2="363.5" stroke="#000" stroke-width="1.5" />
<line x1="108.36" y1="361.5" x2="108.36" y2="363.5" stroke="#000" stroke-width="1.5" />
<line x1="142.8" y1="361.5" x2="142.8" y2="363.5" stroke="#000" stroke-width="1.5" />
<line x1="177.24" y1="361.5" x2="177.24" y2="363.5" stroke="#000" stroke-width="1.5" />
<line x1="211.68" y1="361.5" x2="211.68" y2="363.5" stroke="#000" stroke-width="1.5" />
<text x="42.8" y="355.7" font-size="9.5" text-anchor="end" font-weight="bold" fill="#000" >0</text>
<text x="42.8" y="311.37" font-size="9.5" text-anchor="end" font-weight="bold" fill="#000" >50</text>
<text x="42.8" y="267.03" font-size="9.5" text-anchor="end" font-weight="bold" fill="#000" >100</text>
<text x="42.8" y="222.69" font-size="9.5" text-anchor="end" font-weight="bold" fill="#000" >150</text>
<text x="56.7" y="374.8" font-size="9.5" text-anchor="middle" font-weight="bold" fill="#000" >0</text>
<text x="91.14" y="374.8" font-size="9.5" text-anchor="middle" font-weight="bold" fill="#000" >200</text>
<text x="125.58" y="374.8" font-size="9.5" text-anchor="middle" font-weight="bold" fill="#000" >400</text>
<text x="160.02" y="374.8" font-size="9.5" text-anchor="middle" font-weight="bold" fill="#000" >600</text>
<text x="194.46" y="374.8" font-size="9.5" text-anchor="middle" font-weight="bold" fill="#000" >800</text>
<text x="228.9" y="374.8" font-size="9.5" text-anchor="middle" font-weight="bold" fill="#000" >1000</text>
<text transform="translate(21.1 279.2) rotate(-90)" font-size="13.5" text-anchor="middle" font-weight="bold">Stress (kPa)</text>
<text x="147" y="389.3" font-size="13.5" text-anchor="middle" font-weight="bold" fill="#000" >Strain (%)</text>
<text x="2.1" y="204.6" font-size="20.5" text-anchor="start" font-weight="bold" fill="#000" >(d)</text>
<line x1="186.6" y1="213.5" x2="207.5" y2="213.5" stroke="#3c3c3c" stroke-width="1.3" />
<text x="212.9" y="216.6" font-size="9" text-anchor="start" font-weight="bold" fill="#000" >PAA</text>
<line x1="186.6" y1="224.85" x2="207.5" y2="224.85" stroke="#f03434" stroke-width="1.3" />
<text x="212.9" y="227.95" font-size="9" text-anchor="start" font-weight="bold" fill="#000" >PP</text>
<line x1="186.6" y1="236.2" x2="207.5" y2="236.2" stroke="#2272e8" stroke-width="1.3" />
<text x="212.9" y="239.3" font-size="9" text-anchor="start" font-weight="bold" fill="#000" >PPN</text>
<path d="M298.7 354.1 L298.76 353.63 L298.84 353 L298.93 352.25 L299.04 351.41 L299.16 350.53 L299.29 349.65 L299.44 348.79 L299.6 348 L299.78 347.27 L299.97 346.55 L300.17 345.84 L300.39 345.14 L300.63 344.43 L300.87 343.71 L301.13 342.97 L301.4 342.2 L301.68 341.4 L301.97 340.57 L302.27 339.72 L302.58 338.86 L302.91 338 L303.25 337.15 L303.62 336.31 L304 335.5 L304.4 334.73 L304.8 333.99 L305.21 333.26 L305.65 332.55 L306.11 331.83 L306.6 331.09 L307.13 330.32 L307.7 329.5 L308.32 328.63 L308.98 327.71 L309.67 326.75 L310.4 325.78 L311.15 324.81 L311.92 323.84 L312.71 322.9 L313.5 322 L314.27 321.17 L315.01 320.42 L315.75 319.7 L316.51 318.99 L317.33 318.25 L318.23 317.45 L319.25 316.54 L320.4 315.5 L321.72 314.3 L323.19 312.97 L324.77 311.53 L326.44 310.03 L328.15 308.5 L329.87 306.98 L331.56 305.5 L333.2 304.1 L334.79 302.76 L336.38 301.45 L337.97 300.17 L339.56 298.89 L341.14 297.64 L342.73 296.39 L344.31 295.14 L345.9 293.9 L347.49 292.67 L349.07 291.46 L350.66 290.27 L352.25 289.08 L353.84 287.89 L355.43 286.68 L357.01 285.46 L358.6 284.2 L360.19 282.92 L361.77 281.64 L363.36 280.35 L364.94 279.04 L366.53 277.7 L368.12 276.34 L369.71 274.94 L371.3 273.5 L372.9 272.02 L374.5 270.5 L376.1 268.94 L377.7 267.36 L379.3 265.75 L380.9 264.11 L382.5 262.46 L384.1 260.8 L385.71 259.1 L387.34 257.36 L388.98 255.59 L390.61 253.8 L392.23 252.01 L393.8 250.24 L395.33 248.5 L396.8 246.8 L398.21 245.14 L399.59 243.5 L400.92 241.88 L402.22 240.28 L403.48 238.7 L404.69 237.15 L405.87 235.61 L407 234.1 L408.11 232.56 L409.2 230.96 L410.25 229.35 L411.26 227.78 L412.22 226.29 L413.1 224.94 L413.9 223.76 L414.6 222.8 L415.19 222.09 L415.66 221.61 L416.04 221.29 L416.35 221.11 L416.62 221.02 L416.87 220.96 L417.12 220.91 L417.4 220.8 L417.7 220.68 L418 220.6 L418.3 220.55 L418.57 220.53 L418.83 220.52 L419.06 220.51 L419.25 220.51 L419.4 220.5 L420.1 221 L420.5 223.5 L420.6 354.1" fill="none" stroke="#ff8a1f" stroke-width="1.3" stroke-linejoin="round" stroke-linecap="round" />
<path d="M298.95 353.68 L299.1 353.27 L299.28 352.71 L299.51 352.05 L299.76 351.32 L300.04 350.55 L300.35 349.79 L300.69 349.06 L301.05 348.42 L301.43 347.84 L301.82 347.29 L302.23 346.77 L302.68 346.25 L303.16 345.74 L303.68 345.24 L304.27 344.73 L304.91 344.21 L305.55 343.7 L306.16 343.22 L306.77 342.74 L307.46 342.26 L308.26 341.76 L309.24 341.23 L310.44 340.64 L311.93 340 L313.72 339.31 L315.77 338.59 L318.04 337.83 L320.48 337.04 L323.07 336.2 L325.75 335.3 L328.48 334.35 L331.23 333.33 L334.05 332.25 L337 331.09 L340.05 329.88 L343.18 328.62 L346.35 327.31 L349.53 325.96 L352.68 324.57 L355.79 323.16 L358.91 321.7 L362.09 320.17 L365.31 318.6 L368.51 317 L371.65 315.37 L374.7 313.74 L377.62 312.12 L380.35 310.53 L382.88 308.97 L385.23 307.43 L387.44 305.91 L389.56 304.39 L391.62 302.84 L393.67 301.25 L395.75 299.61 L397.89 297.89 L400.11 296.11 L402.36 294.28 L404.63 292.4 L406.89 290.48 L409.12 288.52 L411.3 286.53 L413.41 284.51 L415.44 282.46 L417.38 280.35 L419.28 278.18 L421.11 275.95 L422.89 273.71 L424.62 271.46 L426.29 269.22 L427.91 267.04 L429.47 264.91 L431 262.79 L432.51 260.62 L433.97 258.45 L435.37 256.32 L436.7 254.27 L437.92 252.36 L439.03 250.63 L440 249.12 L440.82 247.84 L441.49 246.75 L442.04 245.83 L442.5 245.04 L442.89 244.37 L443.22 243.79 L443.54 243.28 L443.86 242.81 L444.16 242.42 L444.42 242.15 L444.63 241.98 L444.8 241.89 L444.95 241.84 L445.07 241.82 L445.17 241.8 L445.26 241.75 L445.82 242.05 L446.32 244.25 L446.47 354.1" fill="none" stroke="#9a6fd0" stroke-width="1.3" stroke-linejoin="round" stroke-linecap="round" />
<path d="M298.95 353.68 L299.1 353.33 L299.28 352.84 L299.51 352.26 L299.76 351.62 L300.04 350.96 L300.35 350.3 L300.69 349.67 L301.05 349.12 L301.43 348.63 L301.82 348.17 L302.23 347.73 L302.68 347.3 L303.16 346.88 L303.68 346.47 L304.27 346.05 L304.91 345.61 L305.55 345.19 L306.16 344.79 L306.77 344.39 L307.46 343.99 L308.26 343.58 L309.24 343.13 L310.44 342.64 L311.93 342.11 L313.72 341.53 L315.77 340.92 L318.04 340.29 L320.48 339.63 L323.07 338.92 L325.75 338.17 L328.48 337.36 L331.23 336.49 L334.05 335.56 L337 334.55 L340.05 333.49 L343.18 332.39 L346.35 331.25 L349.53 330.08 L352.68 328.9 L355.79 327.72 L358.86 326.53 L361.93 325.33 L365 324.11 L368.07 322.87 L371.14 321.6 L374.21 320.29 L377.28 318.94 L380.35 317.54 L383.45 316.09 L386.57 314.59 L389.72 313.05 L392.85 311.47 L395.96 309.86 L399.02 308.23 L402.01 306.58 L404.91 304.91 L407.74 303.24 L410.5 301.54 L413.22 299.83 L415.88 298.09 L418.48 296.33 L421.03 294.54 L423.53 292.73 L425.96 290.88 L428.37 288.97 L430.75 287 L433.08 284.99 L435.35 282.96 L437.55 280.93 L439.65 278.93 L441.64 276.97 L443.51 275.09 L445.26 273.21 L446.92 271.3 L448.49 269.39 L449.96 267.52 L451.32 265.75 L452.57 264.11 L453.71 262.65 L454.74 261.4 L455.61 260.4 L456.32 259.6 L456.91 258.98 L457.39 258.49 L457.81 258.1 L458.18 257.78 L458.55 257.49 L458.95 257.19 L459.36 256.93 L459.74 256.75 L460.1 256.64 L460.44 256.58 L460.74 256.55 L461 256.54 L461.23 256.52 L461.4 256.49 L463.71 256.79 L464.21 263.49 L464.36 354.1" fill="none" stroke="#3cb44a" stroke-width="1.3" stroke-linejoin="round" stroke-linecap="round" />
<path d="M298.95 353.68 L299.1 353.38 L299.28 352.97 L299.51 352.47 L299.76 351.93 L300.04 351.36 L300.35 350.81 L300.69 350.28 L301.05 349.82 L301.43 349.42 L301.82 349.05 L302.23 348.69 L302.68 348.36 L303.16 348.02 L303.68 347.69 L304.27 347.36 L304.91 347.02 L305.55 346.68 L306.16 346.36 L306.77 346.04 L307.46 345.72 L308.26 345.39 L309.24 345.04 L310.44 344.65 L311.93 344.21 L313.72 343.73 L315.77 343.21 L318.04 342.66 L320.48 342.08 L323.07 341.49 L325.75 340.88 L328.48 340.26 L331.23 339.65 L334.05 339.03 L337 338.41 L340.05 337.77 L343.18 337.13 L346.35 336.47 L349.53 335.79 L352.68 335.1 L355.79 334.39 L358.86 333.66 L361.93 332.91 L365 332.16 L368.07 331.38 L371.14 330.59 L374.21 329.77 L377.28 328.93 L380.35 328.07 L383.42 327.18 L386.49 326.26 L389.56 325.32 L392.63 324.36 L395.7 323.38 L398.77 322.39 L401.84 321.38 L404.91 320.35 L408.01 319.3 L411.13 318.23 L414.28 317.14 L417.41 316.03 L420.52 314.91 L423.58 313.8 L426.57 312.68 L429.47 311.58 L432.32 310.47 L435.15 309.34 L437.93 308.2 L440.66 307.06 L443.3 305.94 L445.84 304.85 L448.25 303.8 L450.53 302.81 L452.67 301.84 L454.73 300.89 L456.67 299.96 L458.51 299.07 L460.22 298.23 L461.81 297.45 L463.26 296.75 L464.56 296.14 L465.69 295.63 L466.63 295.22 L467.42 294.89 L468.09 294.62 L468.67 294.39 L469.19 294.2 L469.68 294.03 L470.18 293.86 L470.65 293.71 L471.07 293.59 L471.44 293.51 L471.75 293.45 L472.03 293.42 L472.26 293.39 L472.46 293.36 L472.63 293.33 L473.18 293.63 L473.68 295.83 L473.83 354.1" fill="none" stroke="#3a86f0" stroke-width="1.4" stroke-linejoin="round" stroke-linecap="round" />
<rect x="289.5" y="202.1" width="199.1" height="159.4" fill="none" stroke="#000" stroke-width="1.6"/>
<line x1="286.2" y1="354.1" x2="289.5" y2="354.1" stroke="#000" stroke-width="1.5" />
<line x1="286.2" y1="323.7" x2="289.5" y2="323.7" stroke="#000" stroke-width="1.5" />
<line x1="286.2" y1="293.3" x2="289.5" y2="293.3" stroke="#000" stroke-width="1.5" />
<line x1="286.2" y1="262.9" x2="289.5" y2="262.9" stroke="#000" stroke-width="1.5" />
<line x1="286.2" y1="232.5" x2="289.5" y2="232.5" stroke="#000" stroke-width="1.5" />
<line x1="286.2" y1="202.1" x2="289.5" y2="202.1" stroke="#000" stroke-width="1.5" />
<line x1="287.5" y1="338.9" x2="289.5" y2="338.9" stroke="#000" stroke-width="1.5" />
<line x1="287.5" y1="308.5" x2="289.5" y2="308.5" stroke="#000" stroke-width="1.5" />
<line x1="287.5" y1="278.1" x2="289.5" y2="278.1" stroke="#000" stroke-width="1.5" />
<line x1="287.5" y1="247.7" x2="289.5" y2="247.7" stroke="#000" stroke-width="1.5" />
<line x1="287.5" y1="217.3" x2="289.5" y2="217.3" stroke="#000" stroke-width="1.5" />
<line x1="298.7" y1="361.5" x2="298.7" y2="364.8" stroke="#000" stroke-width="1.5" />
<line x1="333.1" y1="361.5" x2="333.1" y2="364.8" stroke="#000" stroke-width="1.5" />
<line x1="367.5" y1="361.5" x2="367.5" y2="364.8" stroke="#000" stroke-width="1.5" />
<line x1="401.9" y1="361.5" x2="401.9" y2="364.8" stroke="#000" stroke-width="1.5" />
<line x1="436.3" y1="361.5" x2="436.3" y2="364.8" stroke="#000" stroke-width="1.5" />
<line x1="470.7" y1="361.5" x2="470.7" y2="364.8" stroke="#000" stroke-width="1.5" />
<line x1="315.9" y1="361.5" x2="315.9" y2="363.5" stroke="#000" stroke-width="1.5" />
<line x1="350.3" y1="361.5" x2="350.3" y2="363.5" stroke="#000" stroke-width="1.5" />
<line x1="384.7" y1="361.5" x2="384.7" y2="363.5" stroke="#000" stroke-width="1.5" />
<line x1="419.1" y1="361.5" x2="419.1" y2="363.5" stroke="#000" stroke-width="1.5" />
<line x1="453.5" y1="361.5" x2="453.5" y2="363.5" stroke="#000" stroke-width="1.5" />
<text x="284" y="356.9" font-size="9.5" text-anchor="end" font-weight="bold" fill="#000" >0</text>
<text x="284" y="326.5" font-size="9.5" text-anchor="end" font-weight="bold" fill="#000" >20</text>
<text x="284" y="296.1" font-size="9.5" text-anchor="end" font-weight="bold" fill="#000" >40</text>
<text x="284" y="265.7" font-size="9.5" text-anchor="end" font-weight="bold" fill="#000" >60</text>
<text x="284" y="235.3" font-size="9.5" text-anchor="end" font-weight="bold" fill="#000" >80</text>
<text x="284" y="204.9" font-size="9.5" text-anchor="end" font-weight="bold" fill="#000" >100</text>
<text x="298.7" y="374.8" font-size="9.5" text-anchor="middle" font-weight="bold" fill="#000" >0</text>
<text x="333.1" y="374.8" font-size="9.5" text-anchor="middle" font-weight="bold" fill="#000" >200</text>
<text x="367.5" y="374.8" font-size="9.5" text-anchor="middle" font-weight="bold" fill="#000" >400</text>
<text x="401.9" y="374.8" font-size="9.5" text-anchor="middle" font-weight="bold" fill="#000" >600</text>
<text x="436.3" y="374.8" font-size="9.5" text-anchor="middle" font-weight="bold" fill="#000" >800</text>
<text x="470.7" y="374.8" font-size="9.5" text-anchor="middle" font-weight="bold" fill="#000" >1000</text>
<text transform="translate(268.4 279) rotate(-90)" font-size="13.5" text-anchor="middle" font-weight="bold">Stress (kPa)</text>
<text x="389" y="389.4" font-size="13.5" text-anchor="middle" font-weight="bold" fill="#000" >Strain (%)</text>
<text x="244.1" y="199.3" font-size="20.5" text-anchor="start" font-weight="bold" fill="#000" >(e)</text>
<line x1="297.9" y1="210.5" x2="319.3" y2="210.5" stroke="#ff8a1f" stroke-width="1.4" />
<text x="324.7" y="213.6" font-size="9" font-weight="bold">PPN<tspan font-size="6" dy="2.2">0.2</tspan></text>
<line x1="297.9" y1="223.95" x2="319.3" y2="223.95" stroke="#9a6fd0" stroke-width="1.4" />
<text x="324.7" y="227.05" font-size="9" font-weight="bold">PPN<tspan font-size="6" dy="2.2">0.4</tspan></text>
<line x1="297.9" y1="237.4" x2="319.3" y2="237.4" stroke="#3cb44a" stroke-width="1.4" />
<text x="324.7" y="240.5" font-size="9" font-weight="bold">PPN<tspan font-size="6" dy="2.2">0.6</tspan></text>
<line x1="297.9" y1="250.85" x2="319.3" y2="250.85" stroke="#3a86f0" stroke-width="1.4" />
<text x="324.7" y="253.95" font-size="9" font-weight="bold">PPN<tspan font-size="6" dy="2.2">0.8</tspan></text>
<rect x="537.6" y="311.7" width="185.1" height="45.5" fill="#000"/>
<defs><linearGradient id="fgt" x1="0" y1="0" x2="0" y2="1"><stop offset="0" stop-color="#fff" stop-opacity="0.24"/><stop offset="1" stop-color="#fff" stop-opacity="0"/></linearGradient><linearGradient id="fgb" x1="0" y1="1" x2="0" y2="0"><stop offset="0" stop-color="#fff" stop-opacity="0.2"/><stop offset="1" stop-color="#fff" stop-opacity="0"/></linearGradient></defs>
<rect x="537.6" y="311.7" width="185.1" height="9" fill="url(#fgt)"/>
<rect x="537.6" y="349.2" width="185.1" height="8" fill="url(#fgb)"/>
<line x1="538" y1="311.6" x2="538" y2="321.21" stroke="#d8d8d8" stroke-width="0.4789745146670171" />
<line x1="538.3" y1="357.3" x2="538.3" y2="349.1" stroke="#888" stroke-width="0.5358792723342647" />
<line x1="538.75" y1="311.6" x2="538.75" y2="317.6" stroke="#999" stroke-width="0.47364420243159566" />
<line x1="539.05" y1="357.3" x2="539.05" y2="348.81" stroke="#777" stroke-width="0.683198761784163" />
<line x1="539.79" y1="357.3" x2="539.79" y2="354.06" stroke="#999" stroke-width="0.507702033342975" />
<line x1="540.26" y1="311.6" x2="540.26" y2="319.04" stroke="#d8d8d8" stroke-width="0.6826400654649865" />
<line x1="540.56" y1="357.3" x2="540.56" y2="345.95" stroke="#777" stroke-width="0.4751155899893293" />
<line x1="541" y1="311.6" x2="541" y2="316.69" stroke="#666" stroke-width="0.5756588681507167" />
<line x1="541.3" y1="357.3" x2="541.3" y2="341.13" stroke="#bbb" stroke-width="0.7677517926089965" />
<line x1="542.11" y1="311.6" x2="542.11" y2="315.03" stroke="#999" stroke-width="0.8000549982293716" />
<line x1="542.41" y1="357.3" x2="542.41" y2="342.81" stroke="#d8d8d8" stroke-width="0.49722631130198486" />
<line x1="543.37" y1="357.3" x2="543.37" y2="351.52" stroke="#666" stroke-width="0.6732303010613498" />
<line x1="544.24" y1="311.6" x2="544.24" y2="327.02" stroke="#888" stroke-width="0.6486699181195951" />
<line x1="544.54" y1="357.3" x2="544.54" y2="351.3" stroke="#aaa" stroke-width="0.6396393349678577" />
<line x1="545.34" y1="311.6" x2="545.34" y2="315.25" stroke="#888" stroke-width="0.8472383757866537" />
<line x1="545.64" y1="357.3" x2="545.64" y2="349.75" stroke="#777" stroke-width="0.5888021022753802" />
<line x1="546.6" y1="311.6" x2="546.6" y2="316.84" stroke="#d8d8d8" stroke-width="0.5372831099278718" />
<line x1="546.9" y1="357.3" x2="546.9" y2="352.28" stroke="#999" stroke-width="0.8167264904720246" />
<line x1="547.6" y1="311.6" x2="547.6" y2="316.5" stroke="#bbb" stroke-width="0.7777119351342965" />
<line x1="547.9" y1="357.3" x2="547.9" y2="347.33" stroke="#aaa" stroke-width="0.7230892237549806" />
<line x1="548.53" y1="311.6" x2="548.53" y2="315.3" stroke="#bbb" stroke-width="0.7134066707889322" />
<line x1="548.83" y1="357.3" x2="548.83" y2="354.24" stroke="#aaa" stroke-width="0.5627722889306951" />
<line x1="549.32" y1="311.6" x2="549.32" y2="322.44" stroke="#bbb" stroke-width="0.7261974628543912" />
<line x1="549.62" y1="357.3" x2="549.62" y2="340.88" stroke="#777" stroke-width="0.47159715728951607" />
<line x1="550.56" y1="311.6" x2="550.56" y2="336.21" stroke="#888" stroke-width="0.6069515627565074" />
<line x1="550.86" y1="357.3" x2="550.86" y2="348.96" stroke="#999" stroke-width="0.474899128647475" />
<line x1="551.3" y1="311.6" x2="551.3" y2="316.46" stroke="#888" stroke-width="0.4710302415561068" />
<line x1="551.6" y1="357.3" x2="551.6" y2="354.04" stroke="#aaa" stroke-width="0.6954949051901724" />
<line x1="552.04" y1="311.6" x2="552.04" y2="317.16" stroke="#aaa" stroke-width="0.8321872095685885" />
<line x1="552.34" y1="357.3" x2="552.34" y2="346.5" stroke="#666" stroke-width="0.6452272236141643" />
<line x1="553.32" y1="311.6" x2="553.32" y2="320.58" stroke="#d8d8d8" stroke-width="0.7498695681769724" />
<line x1="554.42" y1="357.3" x2="554.42" y2="352.18" stroke="#d8d8d8" stroke-width="0.7532571838143749" />
<line x1="555" y1="311.6" x2="555" y2="331.06" stroke="#aaa" stroke-width="0.6573587428531045" />
<line x1="555.3" y1="357.3" x2="555.3" y2="352.78" stroke="#888" stroke-width="0.7616219565352709" />
<line x1="555.9" y1="311.6" x2="555.9" y2="317.15" stroke="#666" stroke-width="0.7910515194986643" />
<line x1="556.2" y1="357.3" x2="556.2" y2="350.93" stroke="#bbb" stroke-width="0.5299671933580599" />
<line x1="556.89" y1="311.6" x2="556.89" y2="321.05" stroke="#aaa" stroke-width="0.6388960249995421" />
<line x1="558.16" y1="357.3" x2="558.16" y2="352.55" stroke="#999" stroke-width="0.5286824653677269" />
<line x1="558.68" y1="311.6" x2="558.68" y2="328.36" stroke="#d8d8d8" stroke-width="0.6417893705046154" />
<line x1="558.98" y1="357.3" x2="558.98" y2="344.07" stroke="#666" stroke-width="0.7142342600819577" />
<line x1="559.93" y1="311.6" x2="559.93" y2="332.75" stroke="#bbb" stroke-width="0.6235700302992326" />
<line x1="561.21" y1="311.6" x2="561.21" y2="320.43" stroke="#d8d8d8" stroke-width="0.7399194662536861" />
<line x1="561.51" y1="357.3" x2="561.51" y2="350.23" stroke="#888" stroke-width="0.8119408382932958" />
<line x1="562.4" y1="311.6" x2="562.4" y2="317.15" stroke="#999" stroke-width="0.712907317094408" />
<line x1="562.7" y1="357.3" x2="562.7" y2="352.13" stroke="#d8d8d8" stroke-width="0.45569717526244224" />
<line x1="563.68" y1="311.6" x2="563.68" y2="321.93" stroke="#bbb" stroke-width="0.6235237747029942" />
<line x1="563.98" y1="357.3" x2="563.98" y2="350.9" stroke="#aaa" stroke-width="0.5351119169383247" />
<line x1="564.68" y1="311.6" x2="564.68" y2="330.94" stroke="#999" stroke-width="0.7836779985757878" />
<line x1="564.98" y1="357.3" x2="564.98" y2="353.22" stroke="#999" stroke-width="0.7149899321298265" />
<line x1="566.17" y1="357.3" x2="566.17" y2="348.74" stroke="#888" stroke-width="0.457481947162168" />
<line x1="566.83" y1="311.6" x2="566.83" y2="317.13" stroke="#bbb" stroke-width="0.5189386848853795" />
<line x1="567.13" y1="357.3" x2="567.13" y2="347.34" stroke="#d8d8d8" stroke-width="0.5803928604195456" />
<line x1="567.84" y1="311.6" x2="567.84" y2="323.53" stroke="#888" stroke-width="0.4727290280118415" />
<line x1="568.14" y1="357.3" x2="568.14" y2="353.09" stroke="#888" stroke-width="0.6308703707508129" />
<line x1="568.56" y1="311.6" x2="568.56" y2="314.56" stroke="#888" stroke-width="0.6924550727372214" />
<line x1="568.86" y1="357.3" x2="568.86" y2="351.43" stroke="#888" stroke-width="0.7729448571146618" />
<line x1="570.39" y1="311.6" x2="570.39" y2="318.09" stroke="#999" stroke-width="0.5763919176833215" />
<line x1="570.69" y1="357.3" x2="570.69" y2="345.31" stroke="#777" stroke-width="0.5711120301006317" />
<line x1="571.16" y1="311.6" x2="571.16" y2="324.72" stroke="#777" stroke-width="0.5964733157842725" />
<line x1="571.99" y1="311.6" x2="571.99" y2="314.46" stroke="#777" stroke-width="0.7829778677931791" />
<line x1="572.93" y1="311.6" x2="572.93" y2="318.51" stroke="#777" stroke-width="0.5963810057028619" />
<line x1="573.23" y1="357.3" x2="573.23" y2="349.9" stroke="#d8d8d8" stroke-width="0.6037378231629666" />
<line x1="573.95" y1="311.6" x2="573.95" y2="318.77" stroke="#666" stroke-width="0.5414215414872645" />
<line x1="574.25" y1="357.3" x2="574.25" y2="355.2" stroke="#666" stroke-width="0.5226205565644684" />
<line x1="575.4" y1="357.3" x2="575.4" y2="350.73" stroke="#888" stroke-width="0.6782379701573016" />
<line x1="576.22" y1="311.6" x2="576.22" y2="314.17" stroke="#bbb" stroke-width="0.6201268163182891" />
<line x1="576.52" y1="357.3" x2="576.52" y2="354.75" stroke="#d8d8d8" stroke-width="0.770651436628556" />
<line x1="576.97" y1="311.6" x2="576.97" y2="325.7" stroke="#d8d8d8" stroke-width="0.6315094083891699" />
<line x1="577.27" y1="357.3" x2="577.27" y2="347.43" stroke="#aaa" stroke-width="0.6986813817299151" />
<line x1="577.7" y1="311.6" x2="577.7" y2="323.56" stroke="#bbb" stroke-width="0.5547581167530409" />
<line x1="578" y1="357.3" x2="578" y2="353.39" stroke="#aaa" stroke-width="0.6624343358263322" />
<line x1="578.52" y1="311.6" x2="578.52" y2="320.7" stroke="#aaa" stroke-width="0.771471577936897" />
<line x1="578.82" y1="357.3" x2="578.82" y2="352.79" stroke="#888" stroke-width="0.6704196512045015" />
<line x1="579.33" y1="311.6" x2="579.33" y2="318.87" stroke="#777" stroke-width="0.7775680561366856" />
<line x1="579.63" y1="357.3" x2="579.63" y2="347.07" stroke="#999" stroke-width="0.838124959190744" />
<line x1="580.22" y1="311.6" x2="580.22" y2="318.63" stroke="#666" stroke-width="0.8027712515196961" />
<line x1="580.52" y1="357.3" x2="580.52" y2="340.57" stroke="#aaa" stroke-width="0.8427527727317468" />
<line x1="581.42" y1="311.6" x2="581.42" y2="313.67" stroke="#aaa" stroke-width="0.6222962831355527" />
<line x1="582.64" y1="311.6" x2="582.64" y2="332.35" stroke="#777" stroke-width="0.5672233970321342" />
<line x1="582.94" y1="357.3" x2="582.94" y2="350.47" stroke="#d8d8d8" stroke-width="0.5552972267989557" />
<line x1="583.92" y1="311.6" x2="583.92" y2="322.01" stroke="#aaa" stroke-width="0.5371463428633926" />
<line x1="584.22" y1="357.3" x2="584.22" y2="354.2" stroke="#999" stroke-width="0.5615715488873839" />
<line x1="585.01" y1="311.6" x2="585.01" y2="316.72" stroke="#aaa" stroke-width="0.776817712455253" />
<line x1="585.31" y1="357.3" x2="585.31" y2="352.6" stroke="#d8d8d8" stroke-width="0.5698584237821238" />
<line x1="586.09" y1="311.6" x2="586.09" y2="314.91" stroke="#666" stroke-width="0.5121008564756622" />
<line x1="586.39" y1="357.3" x2="586.39" y2="338.79" stroke="#666" stroke-width="0.5804539016505398" />
<line x1="587.38" y1="311.6" x2="587.38" y2="315.84" stroke="#bbb" stroke-width="0.46751522667663437" />
<line x1="587.68" y1="357.3" x2="587.68" y2="337.5" stroke="#777" stroke-width="0.7304213160640565" />
<line x1="588.38" y1="311.6" x2="588.38" y2="326.13" stroke="#666" stroke-width="0.7718710422995083" />
<line x1="589.49" y1="311.6" x2="589.49" y2="328.41" stroke="#d8d8d8" stroke-width="0.5032372791681285" />
<line x1="589.79" y1="357.3" x2="589.79" y2="347.63" stroke="#999" stroke-width="0.6734108985983739" />
<line x1="590.57" y1="311.6" x2="590.57" y2="327.08" stroke="#aaa" stroke-width="0.4513257308511392" />
<line x1="590.87" y1="357.3" x2="590.87" y2="353.6" stroke="#888" stroke-width="0.4867767711260899" />
<line x1="591.59" y1="311.6" x2="591.59" y2="329.54" stroke="#d8d8d8" stroke-width="0.7884534515904136" />
<line x1="591.89" y1="357.3" x2="591.89" y2="351.28" stroke="#777" stroke-width="0.7099729120008202" />
<line x1="592.56" y1="311.6" x2="592.56" y2="328.01" stroke="#777" stroke-width="0.564927666684896" />
<line x1="592.86" y1="357.3" x2="592.86" y2="353.92" stroke="#d8d8d8" stroke-width="0.6898821090085061" />
<line x1="593.46" y1="311.6" x2="593.46" y2="329.62" stroke="#888" stroke-width="0.503376403488127" />
<line x1="593.76" y1="357.3" x2="593.76" y2="351.36" stroke="#777" stroke-width="0.48980762866790645" />
<line x1="594.29" y1="311.6" x2="594.29" y2="319.19" stroke="#999" stroke-width="0.636359043319044" />
<line x1="594.59" y1="357.3" x2="594.59" y2="353.02" stroke="#aaa" stroke-width="0.8412502947028109" />
<line x1="595.55" y1="311.6" x2="595.55" y2="314.2" stroke="#888" stroke-width="0.8372433006602799" />
<line x1="595.85" y1="357.3" x2="595.85" y2="344.64" stroke="#bbb" stroke-width="0.4798451470776569" />
<line x1="596.61" y1="357.3" x2="596.61" y2="351.79" stroke="#aaa" stroke-width="0.8047448638459371" />
<line x1="597.73" y1="357.3" x2="597.73" y2="351.62" stroke="#999" stroke-width="0.7226352466665515" />
<line x1="598.37" y1="311.6" x2="598.37" y2="322.39" stroke="#aaa" stroke-width="0.4983637417561741" />
<line x1="598.67" y1="357.3" x2="598.67" y2="352.99" stroke="#666" stroke-width="0.6093038234711925" />
<line x1="599.94" y1="357.3" x2="599.94" y2="351.58" stroke="#999" stroke-width="0.8495170023142455" />
<line x1="600.69" y1="311.6" x2="600.69" y2="321.08" stroke="#666" stroke-width="0.46930723869990615" />
<line x1="600.99" y1="357.3" x2="600.99" y2="355.28" stroke="#777" stroke-width="0.8242359553245139" />
<line x1="601.54" y1="311.6" x2="601.54" y2="318.34" stroke="#666" stroke-width="0.5993397140060146" />
<line x1="602.62" y1="311.6" x2="602.62" y2="324.17" stroke="#d8d8d8" stroke-width="0.8233861408601775" />
<line x1="602.92" y1="357.3" x2="602.92" y2="348.55" stroke="#777" stroke-width="0.7977915384954462" />
<line x1="603.61" y1="311.6" x2="603.61" y2="320.12" stroke="#aaa" stroke-width="0.5626984158091899" />
<line x1="604.47" y1="311.6" x2="604.47" y2="323.56" stroke="#777" stroke-width="0.6077471110813097" />
<line x1="604.77" y1="357.3" x2="604.77" y2="351.63" stroke="#888" stroke-width="0.812383964096983" />
<line x1="605.46" y1="311.6" x2="605.46" y2="316.51" stroke="#666" stroke-width="0.6299841774327248" />
<line x1="605.76" y1="357.3" x2="605.76" y2="352.01" stroke="#bbb" stroke-width="0.5867820935126367" />
<line x1="606.22" y1="311.6" x2="606.22" y2="316.17" stroke="#bbb" stroke-width="0.804900583684688" />
<line x1="606.52" y1="357.3" x2="606.52" y2="337.75" stroke="#777" stroke-width="0.6596672571003583" />
<line x1="607.15" y1="311.6" x2="607.15" y2="320.11" stroke="#888" stroke-width="0.8370741050247705" />
<line x1="607.45" y1="357.3" x2="607.45" y2="351.45" stroke="#666" stroke-width="0.7951445396203765" />
<line x1="607.97" y1="311.6" x2="607.97" y2="320.92" stroke="#777" stroke-width="0.6283433569426438" />
<line x1="608.69" y1="311.6" x2="608.69" y2="314.52" stroke="#666" stroke-width="0.6393073110827245" />
<line x1="608.99" y1="357.3" x2="608.99" y2="345.3" stroke="#666" stroke-width="0.6611445661051949" />
<line x1="609.67" y1="311.6" x2="609.67" y2="318.89" stroke="#bbb" stroke-width="0.5108272955488133" />
<line x1="610.79" y1="311.6" x2="610.79" y2="333.51" stroke="#888" stroke-width="0.760744646309454" />
<line x1="611.09" y1="357.3" x2="611.09" y2="353.52" stroke="#d8d8d8" stroke-width="0.7082023105472971" />
<line x1="611.67" y1="311.6" x2="611.67" y2="317.21" stroke="#999" stroke-width="0.7294327669258238" />
<line x1="611.97" y1="357.3" x2="611.97" y2="355.16" stroke="#888" stroke-width="0.5266807061078607" />
<line x1="612.53" y1="311.6" x2="612.53" y2="331.16" stroke="#aaa" stroke-width="0.8485496206900198" />
<line x1="612.83" y1="357.3" x2="612.83" y2="347.63" stroke="#bbb" stroke-width="0.6401216880270175" />
<line x1="613.37" y1="311.6" x2="613.37" y2="314.82" stroke="#777" stroke-width="0.5729591311672589" />
<line x1="614.46" y1="311.6" x2="614.46" y2="314.12" stroke="#aaa" stroke-width="0.5407144292978747" />
<line x1="614.76" y1="357.3" x2="614.76" y2="353.73" stroke="#aaa" stroke-width="0.7230266731868928" />
<line x1="615.28" y1="311.6" x2="615.28" y2="326.71" stroke="#d8d8d8" stroke-width="0.5320874348154533" />
<line x1="616.41" y1="357.3" x2="616.41" y2="353.12" stroke="#bbb" stroke-width="0.8085904724100952" />
<line x1="617.11" y1="311.6" x2="617.11" y2="321.38" stroke="#999" stroke-width="0.4717433518557223" />
<line x1="617.41" y1="357.3" x2="617.41" y2="353.06" stroke="#d8d8d8" stroke-width="0.733943435728953" />
<line x1="618.22" y1="357.3" x2="618.22" y2="346.84" stroke="#bbb" stroke-width="0.5816971039494381" />
<line x1="618.73" y1="311.6" x2="618.73" y2="326.06" stroke="#777" stroke-width="0.740150926645456" />
<line x1="619.03" y1="357.3" x2="619.03" y2="347.48" stroke="#d8d8d8" stroke-width="0.45114828967524173" />
<line x1="619.9" y1="357.3" x2="619.9" y2="340.74" stroke="#aaa" stroke-width="0.757492833797853" />
<line x1="620.48" y1="311.6" x2="620.48" y2="328.73" stroke="#999" stroke-width="0.5282863330027889" />
<line x1="620.78" y1="357.3" x2="620.78" y2="341.17" stroke="#aaa" stroke-width="0.7449279215842288" />
<line x1="621.47" y1="311.6" x2="621.47" y2="325.63" stroke="#666" stroke-width="0.6119090439100547" />
<line x1="621.77" y1="357.3" x2="621.77" y2="351.55" stroke="#d8d8d8" stroke-width="0.5528063809720917" />
<line x1="622.61" y1="311.6" x2="622.61" y2="322.16" stroke="#888" stroke-width="0.46743422526768585" />
<line x1="622.91" y1="357.3" x2="622.91" y2="339.6" stroke="#aaa" stroke-width="0.5689623504989493" />
<line x1="623.75" y1="311.6" x2="623.75" y2="327.7" stroke="#d8d8d8" stroke-width="0.4597026819766114" />
<line x1="624.05" y1="357.3" x2="624.05" y2="353.77" stroke="#999" stroke-width="0.8315642320405146" />
<line x1="624.68" y1="311.6" x2="624.68" y2="321.02" stroke="#bbb" stroke-width="0.8212397679583449" />
<line x1="625.56" y1="311.6" x2="625.56" y2="329.97" stroke="#aaa" stroke-width="0.7944969484792613" />
<line x1="625.86" y1="357.3" x2="625.86" y2="349.19" stroke="#d8d8d8" stroke-width="0.6547539120832437" />
<line x1="626.5" y1="311.6" x2="626.5" y2="315.69" stroke="#d8d8d8" stroke-width="0.6426759617107947" />
<line x1="627.73" y1="311.6" x2="627.73" y2="314.14" stroke="#d8d8d8" stroke-width="0.6184241101100303" />
<line x1="628.03" y1="357.3" x2="628.03" y2="336.53" stroke="#bbb" stroke-width="0.6167362524894588" />
<line x1="628.8" y1="311.6" x2="628.8" y2="323.52" stroke="#666" stroke-width="0.715770088909765" />
<line x1="629.1" y1="357.3" x2="629.1" y2="353.53" stroke="#aaa" stroke-width="0.6767536826958236" />
<line x1="629.72" y1="311.6" x2="629.72" y2="323.82" stroke="#bbb" stroke-width="0.5481361187562466" />
<line x1="630.83" y1="357.3" x2="630.83" y2="344.95" stroke="#d8d8d8" stroke-width="0.7113306208369603" />
<line x1="632.55" y1="311.6" x2="632.55" y2="317.2" stroke="#888" stroke-width="0.839186071836725" />
<line x1="632.85" y1="357.3" x2="632.85" y2="348.14" stroke="#888" stroke-width="0.7964509313635797" />
<line x1="633.52" y1="311.6" x2="633.52" y2="320.24" stroke="#d8d8d8" stroke-width="0.49231202494340326" />
<line x1="633.82" y1="357.3" x2="633.82" y2="343.19" stroke="#d8d8d8" stroke-width="0.5974834213853376" />
<line x1="634.31" y1="311.6" x2="634.31" y2="318.7" stroke="#777" stroke-width="0.7106571284352396" />
<line x1="635.25" y1="311.6" x2="635.25" y2="316.94" stroke="#bbb" stroke-width="0.46258663474107137" />
<line x1="635.55" y1="357.3" x2="635.55" y2="347.85" stroke="#d8d8d8" stroke-width="0.7683375489571593" />
<line x1="636.35" y1="311.6" x2="636.35" y2="317.26" stroke="#bbb" stroke-width="0.6091088524323878" />
<line x1="636.65" y1="357.3" x2="636.65" y2="350.71" stroke="#aaa" stroke-width="0.6171381531750824" />
<line x1="637.08" y1="311.6" x2="637.08" y2="327.5" stroke="#999" stroke-width="0.45728527267052643" />
<line x1="637.38" y1="357.3" x2="637.38" y2="349.39" stroke="#999" stroke-width="0.531466868346892" />
<line x1="637.79" y1="311.6" x2="637.79" y2="316.4" stroke="#999" stroke-width="0.6811182644451795" />
<line x1="638.09" y1="357.3" x2="638.09" y2="350.42" stroke="#d8d8d8" stroke-width="0.47067816123827655" />
<line x1="638.57" y1="311.6" x2="638.57" y2="335.6" stroke="#888" stroke-width="0.8208910237873901" />
<line x1="638.87" y1="357.3" x2="638.87" y2="342.15" stroke="#aaa" stroke-width="0.5147258893285956" />
<line x1="639.37" y1="311.6" x2="639.37" y2="313.76" stroke="#666" stroke-width="0.7668579160179975" />
<line x1="640.1" y1="311.6" x2="640.1" y2="319.36" stroke="#777" stroke-width="0.6051580729672146" />
<line x1="640.9" y1="311.6" x2="640.9" y2="334.83" stroke="#888" stroke-width="0.7885405516508608" />
<line x1="641.2" y1="357.3" x2="641.2" y2="350.48" stroke="#999" stroke-width="0.825419621222891" />
<line x1="641.69" y1="311.6" x2="641.69" y2="316.59" stroke="#777" stroke-width="0.7762598958530873" />
<line x1="641.99" y1="357.3" x2="641.99" y2="354.04" stroke="#666" stroke-width="0.7189013780299685" />
<line x1="642.79" y1="311.6" x2="642.79" y2="316.56" stroke="#888" stroke-width="0.7896038521142078" />
<line x1="643.09" y1="357.3" x2="643.09" y2="349.37" stroke="#bbb" stroke-width="0.6202959370291592" />
<line x1="643.89" y1="311.6" x2="643.89" y2="320.73" stroke="#d8d8d8" stroke-width="0.6975567519251633" />
<line x1="644.19" y1="357.3" x2="644.19" y2="348.45" stroke="#888" stroke-width="0.7619899565546817" />
<line x1="644.86" y1="311.6" x2="644.86" y2="317.94" stroke="#d8d8d8" stroke-width="0.5013823519902678" />
<line x1="645.86" y1="311.6" x2="645.86" y2="321.19" stroke="#d8d8d8" stroke-width="0.8188503972693688" />
<line x1="646.16" y1="357.3" x2="646.16" y2="348.65" stroke="#d8d8d8" stroke-width="0.7508235529182079" />
<line x1="647.1" y1="311.6" x2="647.1" y2="332.11" stroke="#666" stroke-width="0.47655226885117347" />
<line x1="647.92" y1="311.6" x2="647.92" y2="319.17" stroke="#666" stroke-width="0.5160446068231284" />
<line x1="648.22" y1="357.3" x2="648.22" y2="337.03" stroke="#aaa" stroke-width="0.6941778563147181" />
<line x1="648.77" y1="311.6" x2="648.77" y2="320.92" stroke="#666" stroke-width="0.632561135719932" />
<line x1="649.59" y1="311.6" x2="649.59" y2="319.35" stroke="#aaa" stroke-width="0.46473322271985457" />
<line x1="649.89" y1="357.3" x2="649.89" y2="352.59" stroke="#aaa" stroke-width="0.7218719820017347" />
<line x1="650.83" y1="311.6" x2="650.83" y2="317.87" stroke="#666" stroke-width="0.662288493062769" />
<line x1="652.1" y1="357.3" x2="652.1" y2="354.8" stroke="#666" stroke-width="0.6077025644121263" />
<line x1="652.98" y1="311.6" x2="652.98" y2="318" stroke="#bbb" stroke-width="0.5941005537832643" />
<line x1="653.28" y1="357.3" x2="653.28" y2="354.34" stroke="#777" stroke-width="0.83319197013465" />
<line x1="653.86" y1="311.6" x2="653.86" y2="321.34" stroke="#666" stroke-width="0.684348130012927" />
<line x1="654.16" y1="357.3" x2="654.16" y2="337.45" stroke="#777" stroke-width="0.4635172612119839" />
<line x1="654.65" y1="311.6" x2="654.65" y2="324.91" stroke="#aaa" stroke-width="0.8082169802420627" />
<line x1="654.95" y1="357.3" x2="654.95" y2="352.25" stroke="#d8d8d8" stroke-width="0.4589158089589865" />
<line x1="655.35" y1="311.6" x2="655.35" y2="317.6" stroke="#888" stroke-width="0.5397035849488927" />
<line x1="655.65" y1="357.3" x2="655.65" y2="347.11" stroke="#aaa" stroke-width="0.6995718235625974" />
<line x1="656.34" y1="311.6" x2="656.34" y2="314.76" stroke="#777" stroke-width="0.5097252322758826" />
<line x1="656.64" y1="357.3" x2="656.64" y2="355.25" stroke="#777" stroke-width="0.7628624536685948" />
<line x1="657.28" y1="311.6" x2="657.28" y2="321.32" stroke="#666" stroke-width="0.674932470597853" />
<line x1="657.58" y1="357.3" x2="657.58" y2="349.67" stroke="#888" stroke-width="0.8248628482746556" />
<line x1="658.42" y1="311.6" x2="658.42" y2="315.36" stroke="#d8d8d8" stroke-width="0.662610960081891" />
<line x1="658.72" y1="357.3" x2="658.72" y2="350.46" stroke="#666" stroke-width="0.4919671327243748" />
<line x1="659.48" y1="311.6" x2="659.48" y2="331.99" stroke="#bbb" stroke-width="0.6573032367470353" />
<line x1="659.78" y1="357.3" x2="659.78" y2="342.12" stroke="#666" stroke-width="0.6952734594781382" />
<line x1="660.49" y1="311.6" x2="660.49" y2="314.22" stroke="#777" stroke-width="0.7631896718678631" />
<line x1="660.79" y1="357.3" x2="660.79" y2="341.74" stroke="#999" stroke-width="0.7480749783285252" />
<line x1="661.47" y1="311.6" x2="661.47" y2="328.57" stroke="#d8d8d8" stroke-width="0.554570696450164" />
<line x1="661.77" y1="357.3" x2="661.77" y2="347.73" stroke="#777" stroke-width="0.8200712761137164" />
<line x1="662.73" y1="311.6" x2="662.73" y2="319.89" stroke="#888" stroke-width="0.721693952191033" />
<line x1="663.03" y1="357.3" x2="663.03" y2="338.74" stroke="#aaa" stroke-width="0.5682467956602668" />
<line x1="663.99" y1="311.6" x2="663.99" y2="315.04" stroke="#bbb" stroke-width="0.5541474607727006" />
<line x1="664.29" y1="357.3" x2="664.29" y2="350.83" stroke="#bbb" stroke-width="0.7484605399219942" />
<line x1="664.89" y1="311.6" x2="664.89" y2="319.47" stroke="#666" stroke-width="0.7022784171154437" />
<line x1="665.91" y1="311.6" x2="665.91" y2="323.15" stroke="#666" stroke-width="0.4606067074454248" />
<line x1="667.08" y1="311.6" x2="667.08" y2="321.58" stroke="#bbb" stroke-width="0.5078379661825705" />
<line x1="667.38" y1="357.3" x2="667.38" y2="355.13" stroke="#bbb" stroke-width="0.5879454731267931" />
<line x1="667.87" y1="311.6" x2="667.87" y2="313.57" stroke="#777" stroke-width="0.7035512508232782" />
<line x1="668.17" y1="357.3" x2="668.17" y2="347.39" stroke="#666" stroke-width="0.6861891202979346" />
<line x1="668.79" y1="311.6" x2="668.79" y2="336.25" stroke="#777" stroke-width="0.4763793673506814" />
<line x1="669.09" y1="357.3" x2="669.09" y2="336.87" stroke="#bbb" stroke-width="0.5312641772984557" />
<line x1="669.51" y1="311.6" x2="669.51" y2="335.62" stroke="#d8d8d8" stroke-width="0.7800241075498653" />
<line x1="669.81" y1="357.3" x2="669.81" y2="340.61" stroke="#bbb" stroke-width="0.4891447269677141" />
<line x1="670.66" y1="311.6" x2="670.66" y2="315.88" stroke="#aaa" stroke-width="0.4583673845258379" />
<line x1="670.96" y1="357.3" x2="670.96" y2="347.79" stroke="#666" stroke-width="0.5972097274969046" />
<line x1="671.85" y1="357.3" x2="671.85" y2="342.84" stroke="#d8d8d8" stroke-width="0.6245798335034322" />
<line x1="672.72" y1="311.6" x2="672.72" y2="318.53" stroke="#888" stroke-width="0.5366297027897539" />
<line x1="673.02" y1="357.3" x2="673.02" y2="354.02" stroke="#999" stroke-width="0.45051962293254055" />
<line x1="673.54" y1="311.6" x2="673.54" y2="333.31" stroke="#aaa" stroke-width="0.646329197572735" />
<line x1="674.82" y1="311.6" x2="674.82" y2="322.23" stroke="#aaa" stroke-width="0.6812029568668303" />
<line x1="675.12" y1="357.3" x2="675.12" y2="353.07" stroke="#777" stroke-width="0.5426110222885477" />
<line x1="675.62" y1="311.6" x2="675.62" y2="329.9" stroke="#777" stroke-width="0.6745018565265332" />
<line x1="675.92" y1="357.3" x2="675.92" y2="353.89" stroke="#999" stroke-width="0.821401835663913" />
<line x1="677.15" y1="357.3" x2="677.15" y2="354.51" stroke="#999" stroke-width="0.8104862736014633" />
<line x1="677.85" y1="311.6" x2="677.85" y2="324.17" stroke="#999" stroke-width="0.5007522092209595" />
<line x1="678.15" y1="357.3" x2="678.15" y2="342.76" stroke="#777" stroke-width="0.4635536442651911" />
<line x1="678.9" y1="311.6" x2="678.9" y2="320.39" stroke="#777" stroke-width="0.6714943937718488" />
<line x1="679.2" y1="357.3" x2="679.2" y2="352.05" stroke="#666" stroke-width="0.5528851585959487" />
<line x1="680.04" y1="357.3" x2="680.04" y2="352.17" stroke="#666" stroke-width="0.7312664652661206" />
<line x1="681.25" y1="357.3" x2="681.25" y2="344.28" stroke="#bbb" stroke-width="0.5444852212908121" />
<line x1="682.22" y1="311.6" x2="682.22" y2="321.36" stroke="#d8d8d8" stroke-width="0.5158406107496789" />
<line x1="682.52" y1="357.3" x2="682.52" y2="346.98" stroke="#bbb" stroke-width="0.7679551193180838" />
<line x1="683.36" y1="311.6" x2="683.36" y2="319.07" stroke="#d8d8d8" stroke-width="0.5623217618657468" />
<line x1="683.66" y1="357.3" x2="683.66" y2="348.46" stroke="#666" stroke-width="0.7664017183677199" />
<line x1="684.48" y1="311.6" x2="684.48" y2="328.32" stroke="#d8d8d8" stroke-width="0.5067250110423969" />
<line x1="684.78" y1="357.3" x2="684.78" y2="342.91" stroke="#bbb" stroke-width="0.813201555171285" />
<line x1="685.44" y1="311.6" x2="685.44" y2="324.54" stroke="#666" stroke-width="0.5414258470174543" />
<line x1="686.52" y1="311.6" x2="686.52" y2="327.08" stroke="#777" stroke-width="0.49968619779915424" />
<line x1="686.82" y1="357.3" x2="686.82" y2="349.55" stroke="#d8d8d8" stroke-width="0.8078976911889924" />
<line x1="687.37" y1="311.6" x2="687.37" y2="322.23" stroke="#aaa" stroke-width="0.7897765827881689" />
<line x1="687.67" y1="357.3" x2="687.67" y2="348.52" stroke="#999" stroke-width="0.657300906405583" />
<line x1="688.46" y1="311.6" x2="688.46" y2="325.14" stroke="#666" stroke-width="0.4542528432271135" />
<line x1="688.76" y1="357.3" x2="688.76" y2="345.26" stroke="#aaa" stroke-width="0.6673439658221051" />
<line x1="689.26" y1="311.6" x2="689.26" y2="336.2" stroke="#aaa" stroke-width="0.4904347981427893" />
<line x1="689.56" y1="357.3" x2="689.56" y2="345.61" stroke="#999" stroke-width="0.6548764646533324" />
<line x1="690.34" y1="311.6" x2="690.34" y2="327.83" stroke="#777" stroke-width="0.8291890485790658" />
<line x1="690.64" y1="357.3" x2="690.64" y2="350.24" stroke="#888" stroke-width="0.7550806550165774" />
<line x1="691.12" y1="311.6" x2="691.12" y2="322.31" stroke="#aaa" stroke-width="0.6027346771946078" />
<line x1="691.42" y1="357.3" x2="691.42" y2="355.37" stroke="#999" stroke-width="0.7014259090967557" />
<line x1="692.22" y1="311.6" x2="692.22" y2="321.45" stroke="#777" stroke-width="0.6101910768149238" />
<line x1="693.5" y1="311.6" x2="693.5" y2="318.63" stroke="#666" stroke-width="0.4775579834269655" />
<line x1="693.8" y1="357.3" x2="693.8" y2="345.88" stroke="#777" stroke-width="0.5403947228629569" />
<line x1="694.78" y1="311.6" x2="694.78" y2="319.63" stroke="#666" stroke-width="0.776471663753052" />
<line x1="695.08" y1="357.3" x2="695.08" y2="344.63" stroke="#777" stroke-width="0.5000664317007264" />
<line x1="695.98" y1="311.6" x2="695.98" y2="320.29" stroke="#777" stroke-width="0.600459398887907" />
<line x1="696.28" y1="357.3" x2="696.28" y2="347.5" stroke="#999" stroke-width="0.45107802094649246" />
<line x1="697.11" y1="311.6" x2="697.11" y2="317.9" stroke="#aaa" stroke-width="0.6418200239089704" />
<line x1="697.41" y1="357.3" x2="697.41" y2="347.31" stroke="#aaa" stroke-width="0.5111012665293402" />
<line x1="697.99" y1="311.6" x2="697.99" y2="317.51" stroke="#aaa" stroke-width="0.7636153726059577" />
<line x1="698.29" y1="357.3" x2="698.29" y2="352.08" stroke="#888" stroke-width="0.45599433677584894" />
<line x1="698.7" y1="311.6" x2="698.7" y2="315.07" stroke="#d8d8d8" stroke-width="0.6813948456726449" />
<line x1="699" y1="357.3" x2="699" y2="353.46" stroke="#666" stroke-width="0.5110687619702247" />
<line x1="699.94" y1="311.6" x2="699.94" y2="330.2" stroke="#777" stroke-width="0.6933468579565709" />
<line x1="701.11" y1="311.6" x2="701.11" y2="326.78" stroke="#bbb" stroke-width="0.662318191166565" />
<line x1="701.41" y1="357.3" x2="701.41" y2="338.13" stroke="#d8d8d8" stroke-width="0.6720255169821459" />
<line x1="701.97" y1="311.6" x2="701.97" y2="318.01" stroke="#888" stroke-width="0.4733817889820654" />
<line x1="702.27" y1="357.3" x2="702.27" y2="345.28" stroke="#bbb" stroke-width="0.6492702638048422" />
<line x1="703" y1="311.6" x2="703" y2="333.08" stroke="#aaa" stroke-width="0.6371841630217003" />
<line x1="703.3" y1="357.3" x2="703.3" y2="345.22" stroke="#999" stroke-width="0.599983151035947" />
<line x1="703.95" y1="311.6" x2="703.95" y2="321.6" stroke="#777" stroke-width="0.7086086184636637" />
<line x1="704.25" y1="357.3" x2="704.25" y2="353.94" stroke="#aaa" stroke-width="0.7734398334673425" />
<line x1="705" y1="357.3" x2="705" y2="354.89" stroke="#bbb" stroke-width="0.5854426207973519" />
<line x1="705.92" y1="311.6" x2="705.92" y2="317.81" stroke="#888" stroke-width="0.7582297560940152" />
<line x1="706.22" y1="357.3" x2="706.22" y2="353.06" stroke="#aaa" stroke-width="0.6716110439679631" />
<line x1="707.12" y1="311.6" x2="707.12" y2="317.89" stroke="#aaa" stroke-width="0.6514996706971132" />
<line x1="707.42" y1="357.3" x2="707.42" y2="348.11" stroke="#bbb" stroke-width="0.7118236616021185" />
<line x1="708.29" y1="311.6" x2="708.29" y2="316.98" stroke="#bbb" stroke-width="0.6845804660700252" />
<line x1="709.23" y1="311.6" x2="709.23" y2="327.4" stroke="#d8d8d8" stroke-width="0.6093928346049977" />
<line x1="709.53" y1="357.3" x2="709.53" y2="355.39" stroke="#999" stroke-width="0.693474247354221" />
<line x1="710.33" y1="311.6" x2="710.33" y2="329.71" stroke="#999" stroke-width="0.6966796581359256" />
<line x1="710.63" y1="357.3" x2="710.63" y2="340.12" stroke="#777" stroke-width="0.48320128384977995" />
<line x1="711.05" y1="311.6" x2="711.05" y2="326.19" stroke="#d8d8d8" stroke-width="0.7154478614965026" />
<line x1="711.35" y1="357.3" x2="711.35" y2="354.39" stroke="#777" stroke-width="0.4553705852296034" />
<line x1="712.27" y1="311.6" x2="712.27" y2="317.85" stroke="#aaa" stroke-width="0.7949801990450631" />
<line x1="712.57" y1="357.3" x2="712.57" y2="352.51" stroke="#999" stroke-width="0.6765330661587861" />
<line x1="713.32" y1="311.6" x2="713.32" y2="314.69" stroke="#666" stroke-width="0.4975387715511833" />
<line x1="714.29" y1="311.6" x2="714.29" y2="315.13" stroke="#777" stroke-width="0.8423138027050971" />
<line x1="714.59" y1="357.3" x2="714.59" y2="346.26" stroke="#d8d8d8" stroke-width="0.7078023298746124" />
<line x1="715.11" y1="311.6" x2="715.11" y2="317.21" stroke="#d8d8d8" stroke-width="0.7235044320504851" />
<line x1="715.95" y1="311.6" x2="715.95" y2="313.81" stroke="#777" stroke-width="0.6775958932705831" />
<line x1="716.25" y1="357.3" x2="716.25" y2="346.52" stroke="#d8d8d8" stroke-width="0.5963494741142483" />
<line x1="717.09" y1="311.6" x2="717.09" y2="330.97" stroke="#d8d8d8" stroke-width="0.5672573227543328" />
<line x1="717.39" y1="357.3" x2="717.39" y2="343.19" stroke="#aaa" stroke-width="0.8154084562191827" />
<line x1="717.83" y1="311.6" x2="717.83" y2="313.53" stroke="#777" stroke-width="0.7246557081262572" />
<line x1="718.13" y1="357.3" x2="718.13" y2="349.24" stroke="#777" stroke-width="0.69004772951006" />
<line x1="719.1" y1="311.6" x2="719.1" y2="329.5" stroke="#aaa" stroke-width="0.829503984972725" />
<line x1="719.4" y1="357.3" x2="719.4" y2="342.94" stroke="#bbb" stroke-width="0.8365421169917606" />
<line x1="719.87" y1="311.6" x2="719.87" y2="322.67" stroke="#999" stroke-width="0.6042949938121239" />
<line x1="720.17" y1="357.3" x2="720.17" y2="345" stroke="#888" stroke-width="0.5835542180907377" />
<line x1="720.74" y1="311.6" x2="720.74" y2="328.25" stroke="#666" stroke-width="0.6899611453176737" />
<line x1="721.04" y1="357.3" x2="721.04" y2="343.03" stroke="#bbb" stroke-width="0.6904549236077815" />
<line x1="721.62" y1="311.6" x2="721.62" y2="324.13" stroke="#999" stroke-width="0.7239287834650274" />
<line x1="721.92" y1="357.3" x2="721.92" y2="342.59" stroke="#999" stroke-width="0.5633237233416861" />
<line x1="722.32" y1="311.6" x2="722.32" y2="317.4" stroke="#666" stroke-width="0.7553296234829279" />
<line x1="722.62" y1="357.3" x2="722.62" y2="354.71" stroke="#666" stroke-width="0.8471342819091923" />
<rect x="532.2" y="202.1" width="199.2" height="159.4" fill="none" stroke="#000" stroke-width="1.6"/>
<line x1="528.9" y1="357.2" x2="532.2" y2="357.2" stroke="#000" stroke-width="1.5" />
<line x1="528.9" y1="339" x2="532.2" y2="339" stroke="#000" stroke-width="1.5" />
<line x1="528.9" y1="320.8" x2="532.2" y2="320.8" stroke="#000" stroke-width="1.5" />
<line x1="528.9" y1="302.6" x2="532.2" y2="302.6" stroke="#000" stroke-width="1.5" />
<line x1="528.9" y1="284.4" x2="532.2" y2="284.4" stroke="#000" stroke-width="1.5" />
<line x1="528.9" y1="266.2" x2="532.2" y2="266.2" stroke="#000" stroke-width="1.5" />
<line x1="528.9" y1="248" x2="532.2" y2="248" stroke="#000" stroke-width="1.5" />
<line x1="528.9" y1="229.8" x2="532.2" y2="229.8" stroke="#000" stroke-width="1.5" />
<line x1="528.9" y1="211.6" x2="532.2" y2="211.6" stroke="#000" stroke-width="1.5" />
<line x1="530.2" y1="348.1" x2="532.2" y2="348.1" stroke="#000" stroke-width="1.5" />
<line x1="530.2" y1="329.9" x2="532.2" y2="329.9" stroke="#000" stroke-width="1.5" />
<line x1="530.2" y1="311.7" x2="532.2" y2="311.7" stroke="#000" stroke-width="1.5" />
<line x1="530.2" y1="293.5" x2="532.2" y2="293.5" stroke="#000" stroke-width="1.5" />
<line x1="530.2" y1="275.3" x2="532.2" y2="275.3" stroke="#000" stroke-width="1.5" />
<line x1="530.2" y1="257.1" x2="532.2" y2="257.1" stroke="#000" stroke-width="1.5" />
<line x1="530.2" y1="238.9" x2="532.2" y2="238.9" stroke="#000" stroke-width="1.5" />
<line x1="530.2" y1="220.7" x2="532.2" y2="220.7" stroke="#000" stroke-width="1.5" />
<line x1="537.6" y1="361.5" x2="537.6" y2="364.8" stroke="#000" stroke-width="1.5" />
<line x1="568.12" y1="361.5" x2="568.12" y2="364.8" stroke="#000" stroke-width="1.5" />
<line x1="598.65" y1="361.5" x2="598.65" y2="364.8" stroke="#000" stroke-width="1.5" />
<line x1="629.17" y1="361.5" x2="629.17" y2="364.8" stroke="#000" stroke-width="1.5" />
<line x1="659.7" y1="361.5" x2="659.7" y2="364.8" stroke="#000" stroke-width="1.5" />
<line x1="690.23" y1="361.5" x2="690.23" y2="364.8" stroke="#000" stroke-width="1.5" />
<line x1="720.75" y1="361.5" x2="720.75" y2="364.8" stroke="#000" stroke-width="1.5" />
<line x1="552.86" y1="361.5" x2="552.86" y2="363.5" stroke="#000" stroke-width="1.5" />
<line x1="583.39" y1="361.5" x2="583.39" y2="363.5" stroke="#000" stroke-width="1.5" />
<line x1="613.91" y1="361.5" x2="613.91" y2="363.5" stroke="#000" stroke-width="1.5" />
<line x1="644.44" y1="361.5" x2="644.44" y2="363.5" stroke="#000" stroke-width="1.5" />
<line x1="674.96" y1="361.5" x2="674.96" y2="363.5" stroke="#000" stroke-width="1.5" />
<line x1="705.49" y1="361.5" x2="705.49" y2="363.5" stroke="#000" stroke-width="1.5" />
<text x="526.7" y="360.3" font-size="10.2" text-anchor="end" font-weight="bold" fill="#000" >0</text>
<text x="526.7" y="342.1" font-size="10.2" text-anchor="end" font-weight="bold" fill="#000" >2</text>
<text x="526.7" y="323.9" font-size="10.2" text-anchor="end" font-weight="bold" fill="#000" >4</text>
<text x="526.7" y="305.7" font-size="10.2" text-anchor="end" font-weight="bold" fill="#000" >6</text>
<text x="526.7" y="287.5" font-size="10.2" text-anchor="end" font-weight="bold" fill="#000" >8</text>
<text x="526.7" y="269.3" font-size="10.2" text-anchor="end" font-weight="bold" fill="#000" >10</text>
<text x="526.7" y="251.1" font-size="10.2" text-anchor="end" font-weight="bold" fill="#000" >12</text>
<text x="526.7" y="232.9" font-size="10.2" text-anchor="end" font-weight="bold" fill="#000" >14</text>
<text x="526.7" y="214.7" font-size="10.2" text-anchor="end" font-weight="bold" fill="#000" >16</text>
<text x="537.6" y="375.7" font-size="10.2" text-anchor="middle" font-weight="bold" fill="#000" >0</text>
<text x="568.12" y="375.7" font-size="10.2" text-anchor="middle" font-weight="bold" fill="#000" >300</text>
<text x="598.65" y="375.7" font-size="10.2" text-anchor="middle" font-weight="bold" fill="#000" >600</text>
<text x="629.17" y="375.7" font-size="10.2" text-anchor="middle" font-weight="bold" fill="#000" >900</text>
<text x="659.7" y="375.7" font-size="10.2" text-anchor="middle" font-weight="bold" fill="#000" >1200</text>
<text x="690.23" y="375.7" font-size="10.2" text-anchor="middle" font-weight="bold" fill="#000" >1500</text>
<text x="720.75" y="375.7" font-size="10.2" text-anchor="middle" font-weight="bold" fill="#000" >1800</text>
<text transform="translate(510.8 278.6) rotate(-90)" font-size="15" text-anchor="middle" font-weight="bold">Stress (kPa)</text>
<text x="632" y="391.1" font-size="14.25" text-anchor="middle" font-weight="bold" fill="#000" >Time (s)</text>
<text x="499.5" y="199" font-size="20.5" text-anchor="start" font-weight="bold" fill="#000" >(f)</text>
<rect x="558.4" y="217.7" width="60.4" height="48.7" fill="#fff" stroke="#555" stroke-width="0.8"/>
<line x1="556.6" y1="218.6" x2="558.4" y2="218.6" stroke="#333" stroke-width="0.7" />
<text x="555.9" y="221.3" font-size="7.6" text-anchor="end" font-weight="bold" fill="#000" >6</text>
<line x1="556.6" y1="233.7" x2="558.4" y2="233.7" stroke="#333" stroke-width="0.7" />
<text x="555.9" y="236.4" font-size="7.6" text-anchor="end" font-weight="bold" fill="#000" >4</text>
<line x1="556.6" y1="248.4" x2="558.4" y2="248.4" stroke="#333" stroke-width="0.7" />
<text x="555.9" y="251.1" font-size="7.6" text-anchor="end" font-weight="bold" fill="#000" >2</text>
<line x1="556.6" y1="263.2" x2="558.4" y2="263.2" stroke="#333" stroke-width="0.7" />
<text x="555.9" y="265.9" font-size="7.6" text-anchor="end" font-weight="bold" fill="#000" >0</text>
<text x="568" y="274.8" font-size="7.6" text-anchor="middle" font-weight="bold" fill="#000" >300</text>
<text x="589" y="274.8" font-size="7.6" text-anchor="middle" font-weight="bold" fill="#000" >310</text>
<text x="610.3" y="274.8" font-size="7.6" text-anchor="middle" font-weight="bold" fill="#000" >320</text>
<path d="M561.6 262.6 L562.1 261 L565.45 227.5 L565.8 225.8 L566.15 227.5 L570 261 L570.5 262.6 L571 261 L574.65 227.5 L575 225.8 L575.35 227.5 L578.9 261 L579.4 262.6 L579.9 261 L583.25 227.5 L583.6 225.8 L583.95 227.5 L587.8 261 L588.3 262.6 L588.8 261 L592.35 227.5 L592.7 225.8 L593.05 227.5 L596.7 261 L597.2 262.6 L597.7 261 L601.15 227.5 L601.5 225.8 L601.85 227.5 L605.6 261 L606.1 262.6 L606.6 261 L610.05 227.5 L610.4 225.8 L610.75 227.5 L614.3 261 L614.8 262.6" fill="none" stroke="#222" stroke-width="0.75" stroke-linejoin="round" stroke-linecap="round" />
<rect x="650.5" y="216.4" width="60.4" height="48.6" fill="#fff" stroke="#555" stroke-width="0.8"/>
<line x1="648.7" y1="217.2" x2="650.5" y2="217.2" stroke="#333" stroke-width="0.7" />
<text x="648" y="219.9" font-size="7.6" text-anchor="end" font-weight="bold" fill="#000" >6</text>
<line x1="648.7" y1="232.5" x2="650.5" y2="232.5" stroke="#333" stroke-width="0.7" />
<text x="648" y="235.2" font-size="7.6" text-anchor="end" font-weight="bold" fill="#000" >4</text>
<line x1="648.7" y1="247.4" x2="650.5" y2="247.4" stroke="#333" stroke-width="0.7" />
<text x="648" y="250.1" font-size="7.6" text-anchor="end" font-weight="bold" fill="#000" >2</text>
<line x1="648.7" y1="262.2" x2="650.5" y2="262.2" stroke="#333" stroke-width="0.7" />
<text x="648" y="264.9" font-size="7.6" text-anchor="end" font-weight="bold" fill="#000" >0</text>
<text x="660.3" y="273.3" font-size="7.6" text-anchor="middle" font-weight="bold" fill="#000" >1500</text>
<text x="681.9" y="273.3" font-size="7.6" text-anchor="middle" font-weight="bold" fill="#000" >1510</text>
<text x="703.4" y="273.3" font-size="7.6" text-anchor="middle" font-weight="bold" fill="#000" >1520</text>
<path d="M653.5 261.6 L654 260 L657.75 226.5 L658.1 224.8 L658.45 226.5 L662.1 260 L662.6 261.6 L663.1 260 L666.65 226.5 L667 224.8 L667.35 226.5 L671.2 260 L671.7 261.6 L672.2 260 L675.85 226.5 L676.2 224.8 L676.55 226.5 L680.2 260 L680.7 261.6 L681.2 260 L684.95 226.5 L685.3 224.8 L685.65 226.5 L689.3 260 L689.8 261.6 L690.3 260 L694.15 226.5 L694.5 224.8 L694.85 226.5 L698.5 260 L699 261.6 L699.5 260 L703.35 226.5 L703.7 224.8 L704.05 226.5 L707.6 260 L708.1 261.6" fill="none" stroke="#222" stroke-width="0.75" stroke-linejoin="round" stroke-linecap="round" />
<rect x="566.5" y="308.4" width="6" height="52.9" fill="none" stroke="#f01818" stroke-width="1.1" stroke-dasharray="1.3 0.9"/>
<line x1="556.2" y1="268.2" x2="566.5" y2="308.4" stroke="#f01818" stroke-width="1.4" stroke-dasharray="1.3 0.9"/>
<line x1="622" y1="269.5" x2="572.5" y2="308.4" stroke="#f01818" stroke-width="1.4" stroke-dasharray="1.3 0.9"/>
<rect x="688.5" y="308.2" width="6" height="53.1" fill="none" stroke="#f01818" stroke-width="1.1" stroke-dasharray="1.3 0.9"/>
<line x1="649" y1="268.5" x2="688.5" y2="308.2" stroke="#f01818" stroke-width="1.4" stroke-dasharray="1.3 0.9"/>
<line x1="712.4" y1="268.5" x2="694.5" y2="308.2" stroke="#f01818" stroke-width="1.4" stroke-dasharray="1.3 0.9"/>
<path d="M57.5 540.2 L59.4 537.74 L61.3 535.1 L63.2 532.39 L65.1 529.64 L67 526.85 L68.9 524.03 L70.8 521.19 L72.7 518.32 L74.6 515.45 L76.5 512.55 L78.4 509.64 L80.3 506.72 L82.2 503.78 L84.1 500.83 L86 497.87 L87.9 494.91 L89.8 491.93 L91.7 488.94 L93.6 485.95 L95.5 482.95 L97.4 479.94 L99.3 476.92 L101.2 473.9 L103.1 470.87 L105 467.83 L106.89 464.79 L108.79 461.74 L110.69 458.69 L112.59 455.63 L114.49 452.56 L116.39 449.49 L118.29 446.42 L120.19 443.34 L122.09 440.26 L123.99 437.17 L125.89 434.07 L127.79 430.98 L129.69 427.87 L131.59 424.77 L133.49 421.66 L131.61 425.64 L129.72 429.59 L127.84 433.5 L125.96 437.38 L124.07 441.21 L122.19 445.01 L120.31 448.77 L118.42 452.49 L116.54 456.17 L114.66 459.81 L112.77 463.41 L110.89 466.96 L109 470.47 L107.12 473.93 L105.24 477.35 L103.35 480.72 L101.47 484.04 L99.59 487.31 L97.7 490.53 L95.82 493.7 L93.93 496.81 L92.05 499.86 L90.17 502.86 L88.28 505.79 L86.4 508.66 L84.52 511.47 L82.63 514.2 L80.75 516.87 L78.86 519.45 L76.98 521.96 L75.1 524.38 L73.21 526.7 L71.33 528.93 L69.45 531.05 L67.56 533.04 L65.68 534.9 L63.8 536.61 L61.91 538.12 L60.03 539.39 L58.14 540.2" fill="none" stroke="#4a4a4a" stroke-width="0.9" stroke-linejoin="round" stroke-linecap="round" />
<path d="M57.5 540.2 L59.41 537.73 L61.32 535.08 L63.22 532.37 L65.13 529.6 L67.04 526.8 L68.95 523.98 L70.85 521.13 L72.76 518.26 L74.67 515.37 L76.58 512.46 L78.49 509.54 L80.39 506.61 L82.3 503.67 L84.21 500.71 L86.12 497.74 L88.03 494.77 L89.93 491.78 L91.84 488.79 L93.75 485.78 L95.66 482.77 L97.56 479.75 L99.47 476.73 L101.38 473.69 L103.29 470.65 L105.2 467.61 L107.1 464.56 L109.01 461.5 L110.92 458.44 L112.83 455.37 L114.74 452.29 L116.64 449.21 L118.55 446.13 L120.46 443.04 L122.37 439.95 L124.27 436.85 L126.18 433.75 L128.09 430.64 L130 427.53 L131.91 424.41 L133.81 421.29 L131.93 425.32 L130.04 429.3 L128.15 433.25 L126.26 437.17 L124.38 441.04 L122.49 444.87 L120.6 448.66 L118.71 452.42 L116.82 456.13 L114.94 459.79 L113.05 463.42 L111.16 466.99 L109.27 470.53 L107.39 474.01 L105.5 477.45 L103.61 480.84 L101.72 484.18 L99.83 487.46 L97.95 490.7 L96.06 493.88 L94.17 497 L92.28 500.06 L90.4 503.06 L88.51 506 L86.62 508.87 L84.73 511.68 L82.85 514.41 L80.96 517.07 L79.07 519.66 L77.18 522.15 L75.29 524.56 L73.41 526.88 L71.52 529.09 L69.63 531.19 L67.74 533.17 L65.86 535.01 L63.97 536.69 L62.08 538.18 L60.19 539.41 L58.3 540.2" fill="none" stroke="#ee5555" stroke-width="0.9" stroke-linejoin="round" stroke-linecap="round" />
<path d="M57.5 540.2 L59.41 537.64 L61.32 534.93 L63.24 532.16 L65.15 529.36 L67.06 526.52 L68.97 523.67 L70.88 520.79 L72.8 517.9 L74.71 515 L76.62 512.08 L78.53 509.15 L80.44 506.2 L82.35 503.25 L84.27 500.29 L86.18 497.33 L88.09 494.35 L90 491.36 L91.91 488.37 L93.83 485.38 L95.74 482.37 L97.65 479.36 L99.56 476.35 L101.47 473.32 L103.39 470.3 L105.3 467.27 L107.21 464.23 L109.12 461.19 L111.03 458.14 L112.94 455.09 L114.86 452.04 L116.77 448.98 L118.68 445.92 L120.59 442.85 L122.5 439.78 L124.42 436.71 L126.33 433.63 L128.24 430.55 L130.15 427.47 L132.06 424.38 L133.98 421.29 L132.09 425.32 L130.2 429.3 L128.31 433.25 L126.42 437.17 L124.54 441.04 L122.65 444.87 L120.76 448.66 L118.87 452.42 L116.99 456.13 L115.1 459.79 L113.21 463.42 L111.32 466.99 L109.43 470.53 L107.55 474.01 L105.66 477.45 L103.77 480.84 L101.88 484.18 L100 487.46 L98.11 490.7 L96.22 493.88 L94.33 497 L92.45 500.06 L90.56 503.06 L88.67 506 L86.78 508.87 L84.89 511.68 L83.01 514.41 L81.12 517.07 L79.23 519.66 L77.34 522.15 L75.46 524.56 L73.57 526.88 L71.68 529.09 L69.79 531.19 L67.9 533.17 L66.02 535.01 L64.13 536.69 L62.24 538.18 L60.35 539.41 L58.47 540.2" fill="none" stroke="#2f7cf0" stroke-width="1.0" stroke-linejoin="round" stroke-linecap="round" />
<path d="M57.5 540.2 L59.42 537.63 L61.33 534.91 L63.25 532.13 L65.16 529.32 L67.08 526.48 L69 523.62 L70.91 520.73 L72.83 517.83 L74.74 514.92 L76.66 511.99 L78.57 509.05 L80.49 506.1 L82.41 503.14 L84.32 500.17 L86.24 497.19 L88.15 494.21 L90.07 491.21 L91.99 488.21 L93.9 485.21 L95.82 482.19 L97.73 479.17 L99.65 476.15 L101.57 473.12 L103.48 470.08 L105.4 467.04 L107.31 464 L109.23 460.95 L111.15 457.89 L113.06 454.83 L114.98 451.77 L116.89 448.7 L118.81 445.63 L120.72 442.55 L122.64 439.47 L124.56 436.39 L126.47 433.3 L128.39 430.21 L130.3 427.12 L132.22 424.02 L134.14 420.93 L132.25 424.99 L130.36 429.02 L128.47 433.01 L126.59 436.96 L124.7 440.87 L122.81 444.73 L120.92 448.56 L119.03 452.34 L117.15 456.08 L115.26 459.78 L113.37 463.43 L111.48 467.03 L109.6 470.59 L107.71 474.09 L105.82 477.55 L103.93 480.96 L102.04 484.32 L100.16 487.62 L98.27 490.86 L96.38 494.05 L94.49 497.19 L92.61 500.26 L90.72 503.26 L88.83 506.21 L86.94 509.08 L85.06 511.89 L83.17 514.62 L81.28 517.28 L79.39 519.86 L77.5 522.35 L75.62 524.75 L73.73 527.05 L71.84 529.25 L69.95 531.33 L68.07 533.29 L66.18 535.11 L64.29 536.77 L62.4 538.23 L60.51 539.44 L58.63 540.2" fill="none" stroke="#3cb371" stroke-width="1.1" stroke-linejoin="round" stroke-linecap="round" />
<path d="M64.26 540.2 L66.97 538.1 L69.67 535.75 L72.38 533.31 L75.08 530.8 L77.79 528.24 L80.49 525.63 L83.2 522.99 L85.9 520.32 L88.61 517.63 L91.31 514.91 L94.01 512.17 L96.72 509.4 L99.42 506.62 L102.13 503.82 L104.83 501.01 L107.54 498.18 L110.24 495.34 L112.95 492.48 L115.65 489.61 L118.36 486.73 L121.06 483.84 L123.77 480.93 L126.47 478.02 L129.18 475.09 L131.88 472.16 L134.59 469.22 L137.29 466.26 L140 463.3 L142.7 460.33 L145.41 457.35 L148.11 454.37 L150.82 451.37 L153.52 448.37 L156.23 445.36 L158.93 442.34 L161.63 439.32 L164.34 436.29 L167.04 433.26 L169.75 430.21 L172.45 427.16 L169.78 430.77 L167.11 434.35 L164.44 437.9 L161.76 441.42 L159.09 444.92 L156.42 448.39 L153.75 451.84 L151.07 455.25 L148.4 458.63 L145.73 461.98 L143.06 465.31 L140.38 468.6 L137.71 471.85 L135.04 475.08 L132.37 478.26 L129.69 481.42 L127.02 484.53 L124.35 487.61 L121.67 490.65 L119 493.65 L116.33 496.61 L113.66 499.52 L110.98 502.39 L108.31 505.22 L105.64 507.99 L102.97 510.71 L100.29 513.38 L97.62 515.99 L94.95 518.54 L92.28 521.03 L89.6 523.45 L86.93 525.79 L84.26 528.06 L81.59 530.23 L78.91 532.31 L76.24 534.27 L73.57 536.1 L70.9 537.76 L68.22 539.19 L65.55 540.2" fill="none" stroke="#4a4a4a" stroke-width="1.0" stroke-linejoin="round" stroke-linecap="round" />
<path d="M64.58 540.2 L67.29 538.09 L69.99 535.74 L72.7 533.29 L75.4 530.77 L78.11 528.2 L80.81 525.58 L83.52 522.94 L86.22 520.26 L88.93 517.55 L91.63 514.83 L94.34 512.07 L97.04 509.3 L99.75 506.51 L102.45 503.71 L105.16 500.88 L107.86 498.04 L110.57 495.19 L113.27 492.33 L115.98 489.45 L118.68 486.56 L121.38 483.65 L124.09 480.74 L126.79 477.82 L129.5 474.88 L132.2 471.94 L134.91 468.99 L137.61 466.02 L140.32 463.05 L143.02 460.07 L145.73 457.08 L148.43 454.09 L151.14 451.08 L153.84 448.07 L156.55 445.05 L159.25 442.03 L161.96 438.99 L164.66 435.95 L167.37 432.91 L170.07 429.86 L172.78 426.8 L170.11 430.44 L167.45 434.06 L164.78 437.65 L162.12 441.21 L159.45 444.74 L156.79 448.25 L154.12 451.72 L151.46 455.16 L148.8 458.57 L146.13 461.96 L143.47 465.3 L140.8 468.62 L138.14 471.9 L135.47 475.14 L132.81 478.35 L130.14 481.53 L127.48 484.66 L124.81 487.76 L122.15 490.81 L119.49 493.82 L116.82 496.79 L114.16 499.72 L111.49 502.59 L108.83 505.42 L106.16 508.2 L103.5 510.93 L100.83 513.6 L98.17 516.21 L95.5 518.75 L92.84 521.23 L90.17 523.64 L87.51 525.98 L84.85 528.23 L82.18 530.39 L79.52 532.44 L76.85 534.38 L74.19 536.19 L71.52 537.82 L68.86 539.23 L66.19 540.2" fill="none" stroke="#ee5555" stroke-width="1.0" stroke-linejoin="round" stroke-linecap="round" />
<path d="M64.91 540.2 L67.61 538.16 L70.32 535.86 L73.02 533.44 L75.73 530.95 L78.43 528.41 L81.13 525.81 L83.84 523.18 L86.54 520.51 L89.25 517.82 L91.95 515.09 L94.66 512.35 L97.36 509.57 L100.07 506.78 L102.77 503.97 L105.48 501.14 L108.18 498.29 L110.89 495.43 L113.59 492.55 L116.3 489.66 L119 486.76 L121.71 483.84 L124.41 480.9 L127.12 477.96 L129.82 475.01 L132.53 472.04 L135.23 469.06 L137.94 466.07 L140.64 463.08 L143.35 460.07 L146.05 457.05 L148.75 454.03 L151.46 450.99 L154.16 447.95 L156.87 444.9 L159.57 441.84 L162.28 438.77 L164.98 435.7 L167.69 432.62 L170.39 429.53 L173.1 426.43 L170.44 430.11 L167.79 433.77 L165.13 437.4 L162.47 440.99 L159.82 444.56 L157.16 448.1 L154.5 451.6 L151.85 455.08 L149.19 458.52 L146.53 461.93 L143.88 465.3 L141.22 468.64 L138.56 471.95 L135.91 475.21 L133.25 478.45 L130.59 481.64 L127.94 484.79 L125.28 487.9 L122.62 490.97 L119.97 494 L117.31 496.98 L114.66 499.91 L112 502.79 L109.34 505.63 L106.69 508.41 L104.03 511.14 L101.37 513.81 L98.72 516.42 L96.06 518.96 L93.4 521.43 L90.75 523.84 L88.09 526.16 L85.43 528.4 L82.78 530.54 L80.12 532.58 L77.46 534.5 L74.81 536.28 L72.15 537.88 L69.49 539.26 L66.84 540.2" fill="none" stroke="#2f7cf0" stroke-width="0.9" stroke-linejoin="round" stroke-linecap="round" />
<path d="M64.91 540.2 L67.62 538.16 L70.33 535.86 L73.04 533.44 L75.76 530.95 L78.47 528.41 L81.18 525.81 L83.9 523.18 L86.61 520.51 L89.32 517.82 L92.03 515.09 L94.75 512.35 L97.46 509.57 L100.17 506.78 L102.89 503.97 L105.6 501.14 L108.31 498.29 L111.02 495.43 L113.74 492.55 L116.45 489.66 L119.16 486.76 L121.88 483.84 L124.59 480.9 L127.3 477.96 L130.01 475.01 L132.73 472.04 L135.44 469.06 L138.15 466.07 L140.87 463.08 L143.58 460.07 L146.29 457.05 L149 454.03 L151.72 450.99 L154.43 447.95 L157.14 444.9 L159.86 441.84 L162.57 438.77 L165.28 435.7 L167.99 432.62 L170.71 429.53 L173.42 426.43 L170.77 430.14 L168.12 433.82 L165.47 437.48 L162.83 441.1 L160.18 444.69 L157.53 448.25 L154.88 451.77 L152.23 455.27 L149.58 458.73 L146.94 462.15 L144.29 465.54 L141.64 468.9 L138.99 472.21 L136.34 475.49 L133.69 478.73 L131.04 481.94 L128.4 485.09 L125.75 488.21 L123.1 491.29 L120.45 494.31 L117.8 497.3 L115.15 500.23 L112.51 503.11 L109.86 505.94 L107.21 508.72 L104.56 511.44 L101.91 514.1 L99.26 516.7 L96.61 519.23 L93.97 521.69 L91.32 524.08 L88.67 526.38 L86.02 528.6 L83.37 530.72 L80.72 532.74 L78.08 534.63 L75.43 536.38 L72.78 537.95 L70.13 539.29 L67.48 540.2" fill="none" stroke="#6fb520" stroke-width="1.1" stroke-linejoin="round" stroke-linecap="round" />
<path d="M73.92 540.2 L74.38 539.65 L74.99 538.91 L75.72 538.03 L76.53 537.05 L77.39 536.03 L78.27 535 L79.15 534.03 L79.99 533.15 L80.76 532.38 L81.49 531.69 L82.2 531.05 L82.94 530.4 L83.74 529.72 L84.63 528.98 L85.64 528.12 L86.81 527.12 L88.16 525.94 L89.68 524.61 L91.32 523.16 L93.05 521.65 L94.83 520.11 L96.63 518.58 L98.4 517.11 L100.11 515.74 L101.77 514.46 L103.44 513.22 L105.11 512.02 L106.78 510.84 L108.45 509.68 L110.12 508.52 L111.8 507.36 L113.48 506.18 L115.16 504.99 L116.85 503.8 L118.54 502.61 L120.24 501.42 L121.93 500.23 L123.62 499.06 L125.31 497.89 L126.98 496.74 L128.65 495.6 L130.3 494.48 L131.95 493.37 L133.6 492.27 L135.24 491.17 L136.89 490.07 L138.55 488.97 L140.21 487.87 L141.89 486.77 L143.58 485.68 L145.29 484.6 L146.99 483.51 L148.69 482.42 L150.38 481.31 L152.06 480.17 L153.72 478.99 L155.31 477.83 L156.83 476.7 L158.31 475.57 L159.8 474.41 L161.32 473.19 L162.93 471.86 L164.65 470.39 L166.53 468.75 L168.62 466.89 L170.89 464.81 L173.29 462.58 L175.76 460.25 L178.25 457.89 L180.7 455.56 L183.07 453.32 L185.28 451.23 L187.37 449.26 L189.41 447.33 L191.39 445.45 L193.32 443.62 L195.19 441.85 L197 440.13 L198.75 438.48 L200.44 436.9 L202.11 435.33 L203.8 433.76 L205.45 432.23 L207.04 430.77 L208.5 429.42 L209.8 428.22 L210.89 427.21 L211.74 426.43 L211.74 426.43 L211.48 426.96 L211.17 427.61 L210.8 428.39 L210.38 429.27 L209.89 430.27 L209.34 431.36 L208.73 432.55 L208.06 433.83 L207.31 435.23 L206.47 436.78 L205.57 438.46 L204.6 440.22 L203.6 442.04 L202.56 443.88 L201.5 445.7 L200.43 447.48 L199.37 449.21 L198.3 450.94 L197.21 452.67 L196.08 454.41 L194.92 456.17 L193.69 457.97 L192.4 459.81 L191.03 461.7 L189.56 463.68 L187.98 465.74 L186.32 467.87 L184.62 470.02 L182.88 472.16 L181.16 474.26 L179.46 476.28 L177.82 478.2 L176.23 480.02 L174.65 481.78 L173.08 483.49 L171.53 485.15 L169.99 486.76 L168.46 488.31 L166.94 489.82 L165.43 491.28 L163.94 492.67 L162.49 493.98 L161.06 495.23 L159.64 496.44 L158.21 497.62 L156.75 498.79 L155.26 499.97 L153.71 501.18 L152.11 502.4 L150.46 503.64 L148.78 504.87 L147.07 506.1 L145.35 507.31 L143.63 508.52 L141.92 509.69 L140.23 510.85 L138.55 511.98 L136.88 513.1 L135.21 514.21 L133.54 515.29 L131.87 516.36 L130.21 517.39 L128.54 518.4 L126.88 519.38 L125.22 520.33 L123.55 521.25 L121.88 522.14 L120.21 523.01 L118.55 523.85 L116.9 524.66 L115.27 525.45 L113.67 526.21 L112.09 526.93 L110.54 527.62 L109 528.28 L107.48 528.91 L105.97 529.52 L104.45 530.13 L102.94 530.72 L101.41 531.33 L99.89 531.92 L98.38 532.51 L96.87 533.08 L95.37 533.65 L93.85 534.21 L92.31 534.77 L90.75 535.32 L89.15 535.88 L87.42 536.46 L85.52 537.07 L83.55 537.7 L81.58 538.32 L79.7 538.91 L78.01 539.43 L76.59 539.87 L75.53 540.2" fill="none" stroke="#4a4a4a" stroke-width="1.7" stroke-linejoin="round" stroke-linecap="round" />
<path d="M76.18 540.2 L76.64 539.65 L77.25 538.91 L77.97 538.03 L78.78 537.05 L79.64 536.03 L80.53 535 L81.4 534.03 L82.24 533.15 L83.01 532.38 L83.74 531.69 L84.46 531.05 L85.2 530.4 L86 529.72 L86.88 528.98 L87.89 528.12 L89.06 527.12 L90.41 525.94 L91.93 524.61 L93.57 523.16 L95.3 521.65 L97.08 520.11 L98.88 518.58 L100.65 517.11 L102.36 515.74 L104.03 514.46 L105.7 513.22 L107.36 512.02 L109.03 510.84 L110.7 509.68 L112.38 508.52 L114.05 507.36 L115.73 506.18 L117.41 504.99 L119.1 503.8 L120.8 502.61 L122.49 501.42 L124.18 500.23 L125.87 499.06 L127.56 497.89 L129.24 496.74 L130.9 495.6 L132.56 494.48 L134.2 493.37 L135.85 492.27 L137.5 491.17 L139.14 490.07 L140.8 488.97 L142.47 487.87 L144.15 486.77 L145.84 485.68 L147.54 484.6 L149.24 483.51 L150.95 482.42 L152.64 481.31 L154.31 480.17 L155.97 478.99 L157.57 477.83 L159.09 476.7 L160.57 475.57 L162.05 474.41 L163.58 473.19 L165.18 471.86 L166.91 470.39 L168.79 468.75 L170.87 466.89 L173.14 464.81 L175.54 462.58 L178.01 460.25 L180.5 457.89 L182.96 455.56 L185.32 453.32 L187.53 451.23 L189.62 449.26 L191.66 447.33 L193.65 445.45 L195.58 443.62 L197.45 441.85 L199.26 440.13 L201.01 438.48 L202.69 436.9 L204.37 435.33 L206.05 433.76 L207.71 432.23 L209.29 430.77 L210.75 429.42 L212.05 428.22 L213.15 427.21 L213.99 426.43 L213.99 426.43 L213.74 426.96 L213.43 427.61 L213.06 428.39 L212.63 429.27 L212.15 430.27 L211.6 431.36 L211 432.55 L210.32 433.83 L209.57 435.23 L208.74 436.78 L207.84 438.46 L206.88 440.22 L205.87 442.04 L204.83 443.88 L203.78 445.7 L202.71 447.48 L201.65 449.21 L200.58 450.94 L199.49 452.67 L198.37 454.41 L197.21 456.17 L195.99 457.97 L194.7 459.81 L193.34 461.7 L191.87 463.68 L190.29 465.74 L188.64 467.87 L186.93 470.02 L185.21 472.16 L183.48 474.26 L181.79 476.28 L180.16 478.2 L178.57 480.02 L176.99 481.78 L175.43 483.49 L173.88 485.15 L172.34 486.76 L170.82 488.31 L169.3 489.82 L167.79 491.28 L166.31 492.67 L164.86 493.98 L163.44 495.23 L162.02 496.44 L160.59 497.62 L159.14 498.79 L157.65 499.97 L156.11 501.18 L154.51 502.4 L152.86 503.64 L151.18 504.87 L149.48 506.1 L147.77 507.31 L146.05 508.52 L144.34 509.69 L142.65 510.85 L140.98 511.98 L139.31 513.1 L137.64 514.21 L135.98 515.29 L134.31 516.36 L132.65 517.39 L130.99 518.4 L129.34 519.38 L127.68 520.33 L126.01 521.25 L124.34 522.14 L122.68 523.01 L121.02 523.85 L119.38 524.66 L117.76 525.45 L116.16 526.21 L114.58 526.93 L113.03 527.62 L111.5 528.28 L109.98 528.91 L108.47 529.52 L106.96 530.13 L105.45 530.72 L103.93 531.33 L102.41 531.92 L100.9 532.51 L99.4 533.08 L97.9 533.65 L96.38 534.21 L94.85 534.77 L93.29 535.32 L91.7 535.88 L89.97 536.46 L88.08 537.07 L86.1 537.7 L84.14 538.32 L82.27 538.91 L80.58 539.43 L79.17 539.87 L78.11 540.2" fill="none" stroke="#ee5555" stroke-width="1.4" stroke-linejoin="round" stroke-linecap="round" />
<path d="M78.75 540.2 L79.21 539.65 L79.82 538.91 L80.55 538.03 L81.36 537.05 L82.22 536.03 L83.1 535 L83.98 534.03 L84.82 533.15 L85.59 532.38 L86.32 531.69 L87.03 531.05 L87.77 530.4 L88.57 529.72 L89.46 528.98 L90.47 528.12 L91.64 527.12 L92.99 525.94 L94.51 524.61 L96.15 523.16 L97.88 521.65 L99.66 520.11 L101.46 518.58 L103.23 517.11 L104.94 515.74 L106.6 514.46 L108.27 513.22 L109.94 512.02 L111.61 510.84 L113.28 509.68 L114.95 508.52 L116.63 507.36 L118.31 506.18 L119.99 504.99 L121.68 503.8 L123.37 502.61 L125.07 501.42 L126.76 500.23 L128.45 499.06 L130.14 497.89 L131.81 496.74 L133.48 495.6 L135.13 494.48 L136.78 493.37 L138.43 492.27 L140.07 491.17 L141.72 490.07 L143.38 488.97 L145.04 487.87 L146.72 486.77 L148.41 485.68 L150.12 484.6 L151.82 483.51 L153.52 482.42 L155.21 481.31 L156.89 480.17 L158.55 478.99 L160.14 477.83 L161.66 476.7 L163.14 475.57 L164.63 474.41 L166.15 473.19 L167.76 471.86 L169.48 470.39 L171.36 468.75 L173.45 466.89 L175.72 464.81 L178.12 462.58 L180.59 460.25 L183.08 457.89 L185.53 455.56 L187.9 453.32 L190.11 451.23 L192.2 449.26 L194.24 447.33 L196.22 445.45 L198.15 443.62 L200.02 441.85 L201.83 440.13 L203.58 438.48 L205.27 436.9 L206.94 435.33 L208.63 433.76 L210.28 432.23 L211.87 430.77 L213.33 429.42 L214.63 428.22 L215.72 427.21 L216.57 426.43 L216.57 426.43 L216.31 426.96 L216 427.61 L215.63 428.39 L215.21 429.27 L214.72 430.27 L214.18 431.36 L213.57 432.55 L212.9 433.83 L212.15 435.23 L211.32 436.78 L210.41 438.46 L209.45 440.22 L208.45 442.04 L207.41 443.88 L206.35 445.7 L205.29 447.48 L204.23 449.21 L203.16 450.94 L202.07 452.67 L200.95 454.41 L199.79 456.17 L198.57 457.97 L197.28 459.81 L195.91 461.7 L194.44 463.68 L192.87 465.74 L191.21 467.87 L189.51 470.02 L187.78 472.16 L186.06 474.26 L184.37 476.28 L182.73 478.2 L181.14 480.02 L179.57 481.78 L178.01 483.49 L176.46 485.15 L174.92 486.76 L173.39 488.31 L171.88 489.82 L170.37 491.28 L168.89 492.67 L167.44 493.98 L166.01 495.23 L164.59 496.44 L163.16 497.62 L161.71 498.79 L160.22 499.97 L158.68 501.18 L157.08 502.4 L155.44 503.64 L153.76 504.87 L152.06 506.1 L150.34 507.31 L148.62 508.52 L146.92 509.69 L145.23 510.85 L143.56 511.98 L141.89 513.1 L140.22 514.21 L138.55 515.29 L136.89 516.36 L135.23 517.39 L133.57 518.4 L131.91 519.38 L130.25 520.33 L128.59 521.25 L126.92 522.14 L125.25 523.01 L123.6 523.85 L121.96 524.66 L120.33 525.45 L118.73 526.21 L117.16 526.93 L115.61 527.62 L114.08 528.28 L112.56 528.91 L111.05 529.52 L109.54 530.13 L108.02 530.72 L106.5 531.33 L104.98 531.92 L103.48 532.51 L101.98 533.08 L100.47 533.65 L98.96 534.21 L97.43 534.77 L95.87 535.32 L94.27 535.88 L92.55 536.46 L90.65 537.07 L88.68 537.7 L86.71 538.32 L84.84 538.91 L83.16 539.43 L81.74 539.87 L80.68 540.2" fill="none" stroke="#2f7cf0" stroke-width="1.2" stroke-linejoin="round" stroke-linecap="round" />
<path d="M81.33 540.2 L81.79 539.65 L82.4 538.91 L83.12 538.03 L83.93 537.05 L84.8 536.03 L85.68 535 L86.56 534.03 L87.39 533.15 L88.16 532.38 L88.89 531.69 L89.61 531.05 L90.35 530.4 L91.15 529.72 L92.04 528.98 L93.05 528.12 L94.21 527.12 L95.57 525.94 L97.08 524.61 L98.72 523.16 L100.45 521.65 L102.24 520.11 L104.03 518.58 L105.8 517.11 L107.51 515.74 L109.18 514.46 L110.85 513.22 L112.51 512.02 L114.18 510.84 L115.86 509.68 L117.53 508.52 L119.2 507.36 L120.88 506.18 L122.56 504.99 L124.25 503.8 L125.95 502.61 L127.64 501.42 L129.34 500.23 L131.03 499.06 L132.71 497.89 L134.39 496.74 L136.05 495.6 L137.71 494.48 L139.36 493.37 L141 492.27 L142.65 491.17 L144.3 490.07 L145.95 488.97 L147.62 487.87 L149.3 486.77 L150.99 485.68 L152.69 484.6 L154.4 483.51 L156.1 482.42 L157.79 481.31 L159.47 480.17 L161.12 478.99 L162.72 477.83 L164.24 476.7 L165.72 475.57 L167.2 474.41 L168.73 473.19 L170.34 471.86 L172.06 470.39 L173.94 468.75 L176.02 466.89 L178.29 464.81 L180.69 462.58 L183.17 460.25 L185.66 457.89 L188.11 455.56 L190.47 453.32 L192.68 451.23 L194.78 449.26 L196.82 447.33 L198.8 445.45 L200.73 443.62 L202.6 441.85 L204.41 440.13 L206.16 438.48 L207.84 436.9 L209.52 435.33 L211.2 433.76 L212.86 432.23 L214.44 430.77 L215.9 429.42 L217.2 428.22 L218.3 427.21 L219.14 426.43 L219.14 426.43 L218.89 426.96 L218.58 427.61 L218.21 428.39 L217.79 429.27 L217.3 430.27 L216.76 431.36 L216.15 432.55 L215.48 433.83 L214.72 435.23 L213.89 436.78 L212.99 438.46 L212.03 440.22 L211.02 442.04 L209.98 443.88 L208.93 445.7 L207.87 447.48 L206.8 449.21 L205.74 450.94 L204.65 452.67 L203.53 454.41 L202.36 456.17 L201.14 457.97 L199.86 459.81 L198.49 461.7 L197.02 463.68 L195.44 465.74 L193.79 467.87 L192.09 470.02 L190.36 472.16 L188.64 474.26 L186.94 476.28 L185.31 478.2 L183.72 480.02 L182.14 481.78 L180.58 483.49 L179.03 485.15 L177.49 486.76 L175.97 488.31 L174.45 489.82 L172.94 491.28 L171.46 492.67 L170.02 493.98 L168.59 495.23 L167.17 496.44 L165.74 497.62 L164.29 498.79 L162.8 499.97 L161.26 501.18 L159.66 502.4 L158.02 503.64 L156.34 504.87 L154.63 506.1 L152.92 507.31 L151.2 508.52 L149.49 509.69 L147.8 510.85 L146.13 511.98 L144.46 513.1 L142.8 514.21 L141.13 515.29 L139.47 516.36 L137.8 517.39 L136.15 518.4 L134.49 519.38 L132.83 520.33 L131.16 521.25 L129.49 522.14 L127.83 523.01 L126.17 523.85 L124.53 524.66 L122.91 525.45 L121.31 526.21 L119.73 526.93 L118.18 527.62 L116.65 528.28 L115.13 528.91 L113.62 529.52 L112.11 530.13 L110.6 530.72 L109.08 531.33 L107.56 531.92 L106.05 532.51 L104.55 533.08 L103.05 533.65 L101.53 534.21 L100 534.77 L98.44 535.32 L96.85 535.88 L95.12 536.46 L93.23 537.07 L91.26 537.7 L89.29 538.32 L87.42 538.91 L85.73 539.43 L84.32 539.87 L83.26 540.2" fill="none" stroke="#3cb371" stroke-width="1.2" stroke-linejoin="round" stroke-linecap="round" />
<rect x="48.3" y="392.9" width="198.2" height="158.4" fill="none" stroke="#000" stroke-width="1.6"/>
<line x1="45" y1="540.2" x2="48.3" y2="540.2" stroke="#000" stroke-width="1.5" />
<line x1="45" y1="503.5" x2="48.3" y2="503.5" stroke="#000" stroke-width="1.5" />
<line x1="45" y1="466.8" x2="48.3" y2="466.8" stroke="#000" stroke-width="1.5" />
<line x1="45" y1="430.1" x2="48.3" y2="430.1" stroke="#000" stroke-width="1.5" />
<line x1="45" y1="393.4" x2="48.3" y2="393.4" stroke="#000" stroke-width="1.5" />
<line x1="46.3" y1="521.85" x2="48.3" y2="521.85" stroke="#000" stroke-width="1.5" />
<line x1="46.3" y1="485.15" x2="48.3" y2="485.15" stroke="#000" stroke-width="1.5" />
<line x1="46.3" y1="448.45" x2="48.3" y2="448.45" stroke="#000" stroke-width="1.5" />
<line x1="46.3" y1="411.75" x2="48.3" y2="411.75" stroke="#000" stroke-width="1.5" />
<line x1="57.5" y1="551.3" x2="57.5" y2="554.6" stroke="#000" stroke-width="1.5" />
<line x1="89.7" y1="551.3" x2="89.7" y2="554.6" stroke="#000" stroke-width="1.5" />
<line x1="121.9" y1="551.3" x2="121.9" y2="554.6" stroke="#000" stroke-width="1.5" />
<line x1="154.1" y1="551.3" x2="154.1" y2="554.6" stroke="#000" stroke-width="1.5" />
<line x1="186.3" y1="551.3" x2="186.3" y2="554.6" stroke="#000" stroke-width="1.5" />
<line x1="218.5" y1="551.3" x2="218.5" y2="554.6" stroke="#000" stroke-width="1.5" />
<line x1="73.6" y1="551.3" x2="73.6" y2="553.3" stroke="#000" stroke-width="1.5" />
<line x1="105.8" y1="551.3" x2="105.8" y2="553.3" stroke="#000" stroke-width="1.5" />
<line x1="138" y1="551.3" x2="138" y2="553.3" stroke="#000" stroke-width="1.5" />
<line x1="170.2" y1="551.3" x2="170.2" y2="553.3" stroke="#000" stroke-width="1.5" />
<line x1="202.4" y1="551.3" x2="202.4" y2="553.3" stroke="#000" stroke-width="1.5" />
<line x1="234.6" y1="551.3" x2="234.6" y2="553.3" stroke="#000" stroke-width="1.5" />
<text x="42.8" y="543" font-size="9.5" text-anchor="end" font-weight="bold" fill="#000" >0</text>
<text x="42.8" y="506.3" font-size="9.5" text-anchor="end" font-weight="bold" fill="#000" >5</text>
<text x="42.8" y="469.6" font-size="9.5" text-anchor="end" font-weight="bold" fill="#000" >10</text>
<text x="42.8" y="432.9" font-size="9.5" text-anchor="end" font-weight="bold" fill="#000" >15</text>
<text x="42.8" y="396.2" font-size="9.5" text-anchor="end" font-weight="bold" fill="#000" >20</text>
<text x="57.5" y="564.2" font-size="9.5" text-anchor="middle" font-weight="bold" fill="#000" >0</text>
<text x="89.7" y="564.2" font-size="9.5" text-anchor="middle" font-weight="bold" fill="#000" >10</text>
<text x="121.9" y="564.2" font-size="9.5" text-anchor="middle" font-weight="bold" fill="#000" >20</text>
<text x="154.1" y="564.2" font-size="9.5" text-anchor="middle" font-weight="bold" fill="#000" >30</text>
<text x="186.3" y="564.2" font-size="9.5" text-anchor="middle" font-weight="bold" fill="#000" >40</text>
<text x="218.5" y="564.2" font-size="9.5" text-anchor="middle" font-weight="bold" fill="#000" >50</text>
<text transform="translate(26.5 468.2) rotate(-90)" font-size="13.8" text-anchor="middle" font-weight="bold">Pressure (kPa)</text>
<text x="147.3" y="579" font-size="13.8" text-anchor="middle" font-weight="bold" fill="#000" >Compressive Strain (%)</text>
<text x="2.1" y="391.2" font-size="20.5" text-anchor="start" font-weight="bold" fill="#000" >(g)</text>
<text x="129.3" y="418.5" font-size="9.6" font-weight="bold" font-family="&quot;Liberation Serif&quot;, serif">PP</text>
<text x="163.6" y="418.2" font-size="9.6" font-weight="bold" font-family="&quot;Liberation Serif&quot;, serif">PPN<tspan font-size="4.5" dy="1.5">0.4</tspan></text>
<text x="207.4" y="418.0" font-size="9.6" font-weight="bold" font-family="&quot;Liberation Serif&quot;, serif">PPN<tspan font-size="4.5" dy="1.5">0.8</tspan></text>
<line x1="153.5" y1="509.7" x2="175" y2="509.7" stroke="#4a4a4a" stroke-width="1.6" />
<text x="179.9" y="512.8" font-size="9" text-anchor="start" font-weight="bold" fill="#000" >First Cycles</text>
<line x1="153.5" y1="521.05" x2="175" y2="521.05" stroke="#ee5555" stroke-width="1.4" />
<text x="179.9" y="524.15" font-size="9" text-anchor="start" font-weight="bold" fill="#000" >Second Cycles</text>
<line x1="153.5" y1="532.4" x2="175" y2="532.4" stroke="#2f7cf0" stroke-width="1.3" />
<text x="179.9" y="535.5" font-size="9" text-anchor="start" font-weight="bold" fill="#000" >Third Cycles</text>
<line x1="153.5" y1="543.75" x2="175" y2="543.75" stroke="#3cb371" stroke-width="1.3" />
<text x="179.9" y="546.85" font-size="9" text-anchor="start" font-weight="bold" fill="#000" >Forth Cycles</text>
<path d="M289.9 546.8 L291.64 546.14 L293.39 545.17 L295.13 544.03 L296.88 542.76 L298.62 541.39 L300.37 539.93 L302.11 538.39 L303.86 536.79 L305.6 535.12 L307.35 533.39 L309.09 531.6 L310.84 529.77 L312.58 527.88 L314.33 525.96 L316.07 523.98 L317.82 521.97 L319.56 519.92 L321.31 517.83 L323.05 515.7 L324.8 513.54 L326.54 511.35 L328.29 509.12 L330.03 506.86 L331.78 504.57 L333.52 502.25 L335.27 499.9 L337.01 497.52 L338.76 495.12 L340.5 492.69 L342.25 490.23 L343.99 487.75 L345.74 485.24 L347.48 482.71 L349.23 480.15 L350.97 477.57 L352.72 474.97 L354.46 472.34 L356.21 469.7 L357.95 467.03 L359.7 464.34 L361.44 461.63 L363.19 458.89 L364.93 456.14 L366.68 453.37 L368.42 450.58 L370.17 447.77 L371.91 444.94 L373.66 442.09 L375.4 439.22 L377.15 436.34 L378.89 433.44 L380.64 430.51 L382.38 427.58 L384.13 424.62 L385.88 421.65 L387.62 418.66 L389.37 415.65 L391.11 412.63 L392.86 409.59 L394.6 406.54" fill="none" stroke="#3c3c3c" stroke-width="1.1" stroke-linejoin="round" stroke-linecap="round" />
<path d="M289.9 546.8 L290.82 546.2 L292.04 545.42 L293.49 544.49 L295.11 543.44 L296.84 542.33 L298.6 541.2 L300.34 540.07 L302 539 L303.53 538.02 L304.98 537.12 L306.4 536.23 L307.86 535.32 L309.43 534.32 L311.17 533.19 L313.14 531.86 L315.4 530.3 L318.01 528.47 L320.93 526.42 L324.08 524.19 L327.4 521.81 L330.81 519.34 L334.25 516.82 L337.63 514.29 L340.9 511.8 L344.08 509.32 L347.25 506.8 L350.43 504.25 L353.6 501.66 L356.77 499.03 L359.95 496.36 L363.12 493.65 L366.3 490.9 L369.49 488.12 L372.69 485.32 L375.89 482.49 L379.09 479.61 L382.29 476.69 L385.48 473.7 L388.65 470.64 L391.8 467.5 L395 464.18 L398.29 460.66 L401.61 457 L404.9 453.32 L408.09 449.69 L411.13 446.2 L413.95 442.94 L416.5 440 L418.72 437.41 L420.66 435.11 L422.38 433.03 L423.95 431.09 L425.43 429.24 L426.89 427.4 L428.39 425.51 L430 423.5 L431.78 421.28 L433.69 418.89 L435.66 416.41 L437.59 413.97 L439.43 411.65 L441.07 409.57 L442.46 407.81 L443.5 406.5" fill="none" stroke="#f03c3c" stroke-width="1.3" stroke-linejoin="round" stroke-linecap="round" />
<path d="M289.9 546.8 L290.82 546.42 L292.04 545.92 L293.49 545.32 L295.11 544.65 L296.84 543.94 L298.6 543.21 L300.34 542.49 L302 541.8 L303.53 541.17 L304.98 540.6 L306.4 540.03 L307.86 539.45 L309.43 538.81 L311.17 538.08 L313.14 537.22 L315.4 536.2 L318.01 534.99 L320.93 533.63 L324.08 532.13 L327.4 530.55 L330.81 528.91 L334.25 527.25 L337.63 525.6 L340.9 524 L344.08 522.44 L347.25 520.89 L350.43 519.33 L353.6 517.76 L356.77 516.17 L359.95 514.55 L363.12 512.9 L366.3 511.2 L369.48 509.48 L372.67 507.74 L375.86 505.98 L379.05 504.19 L382.24 502.36 L385.43 500.47 L388.62 498.52 L391.8 496.5 L395.05 494.36 L398.39 492.08 L401.78 489.71 L405.14 487.31 L408.42 484.91 L411.56 482.56 L414.51 480.31 L417.2 478.2 L419.63 476.23 L421.85 474.34 L423.9 472.53 L425.8 470.77 L427.58 469.08 L429.27 467.42 L430.9 465.8 L432.5 464.2 L434.02 462.65 L435.41 461.18 L436.7 459.76 L437.92 458.37 L439.1 456.99 L440.27 455.6 L441.46 454.18 L442.7 452.7 L444.01 451.14 L445.36 449.5 L446.73 447.82 L448.09 446.13 L449.41 444.47 L450.67 442.87 L451.85 441.37 L452.9 440 L453.82 438.79 L454.61 437.74 L455.31 436.78 L455.95 435.89 L456.56 435.01 L457.17 434.09 L457.8 433.11 L458.5 432 L459.24 430.8 L459.99 429.57 L460.75 428.29 L461.52 426.96 L462.3 425.59 L463.09 424.15 L463.89 422.66 L464.7 421.1 L465.58 419.35 L466.54 417.37 L467.54 415.25 L468.54 413.12 L469.49 411.07 L470.34 409.21 L471.06 407.65 L471.6 406.5" fill="none" stroke="#2272e8" stroke-width="1.3" stroke-linejoin="round" stroke-linecap="round" />
<rect x="289.9" y="392.8" width="197.3" height="154" fill="none" stroke="#000" stroke-width="1.6"/>
<line x1="286.6" y1="546.8" x2="289.9" y2="546.8" stroke="#000" stroke-width="1.5" />
<line x1="286.6" y1="522.7" x2="289.9" y2="522.7" stroke="#000" stroke-width="1.5" />
<line x1="286.6" y1="498.6" x2="289.9" y2="498.6" stroke="#000" stroke-width="1.5" />
<line x1="286.6" y1="474.5" x2="289.9" y2="474.5" stroke="#000" stroke-width="1.5" />
<line x1="286.6" y1="450.4" x2="289.9" y2="450.4" stroke="#000" stroke-width="1.5" />
<line x1="286.6" y1="426.3" x2="289.9" y2="426.3" stroke="#000" stroke-width="1.5" />
<line x1="286.6" y1="402.2" x2="289.9" y2="402.2" stroke="#000" stroke-width="1.5" />
<line x1="287.9" y1="534.75" x2="289.9" y2="534.75" stroke="#000" stroke-width="1.5" />
<line x1="287.9" y1="510.65" x2="289.9" y2="510.65" stroke="#000" stroke-width="1.5" />
<line x1="287.9" y1="486.55" x2="289.9" y2="486.55" stroke="#000" stroke-width="1.5" />
<line x1="287.9" y1="462.45" x2="289.9" y2="462.45" stroke="#000" stroke-width="1.5" />
<line x1="287.9" y1="438.35" x2="289.9" y2="438.35" stroke="#000" stroke-width="1.5" />
<line x1="287.9" y1="414.25" x2="289.9" y2="414.25" stroke="#000" stroke-width="1.5" />
<line x1="289.9" y1="546.8" x2="289.9" y2="550.1" stroke="#000" stroke-width="1.5" />
<line x1="319.9" y1="546.8" x2="319.9" y2="550.1" stroke="#000" stroke-width="1.5" />
<line x1="349.9" y1="546.8" x2="349.9" y2="550.1" stroke="#000" stroke-width="1.5" />
<line x1="379.9" y1="546.8" x2="379.9" y2="550.1" stroke="#000" stroke-width="1.5" />
<line x1="409.9" y1="546.8" x2="409.9" y2="550.1" stroke="#000" stroke-width="1.5" />
<line x1="439.9" y1="546.8" x2="439.9" y2="550.1" stroke="#000" stroke-width="1.5" />
<line x1="469.9" y1="546.8" x2="469.9" y2="550.1" stroke="#000" stroke-width="1.5" />
<line x1="304.9" y1="546.8" x2="304.9" y2="548.8" stroke="#000" stroke-width="1.5" />
<line x1="334.9" y1="546.8" x2="334.9" y2="548.8" stroke="#000" stroke-width="1.5" />
<line x1="364.9" y1="546.8" x2="364.9" y2="548.8" stroke="#000" stroke-width="1.5" />
<line x1="394.9" y1="546.8" x2="394.9" y2="548.8" stroke="#000" stroke-width="1.5" />
<line x1="424.9" y1="546.8" x2="424.9" y2="548.8" stroke="#000" stroke-width="1.5" />
<line x1="454.9" y1="546.8" x2="454.9" y2="548.8" stroke="#000" stroke-width="1.5" />
<line x1="484.9" y1="546.8" x2="484.9" y2="548.8" stroke="#000" stroke-width="1.5" />
<text x="284.4" y="549.6" font-size="9.5" text-anchor="end" font-weight="bold" fill="#000" >0</text>
<text x="284.4" y="525.5" font-size="9.5" text-anchor="end" font-weight="bold" fill="#000" >5</text>
<text x="284.4" y="501.4" font-size="9.5" text-anchor="end" font-weight="bold" fill="#000" >10</text>
<text x="284.4" y="477.3" font-size="9.5" text-anchor="end" font-weight="bold" fill="#000" >15</text>
<text x="284.4" y="453.2" font-size="9.5" text-anchor="end" font-weight="bold" fill="#000" >20</text>
<text x="284.4" y="429.1" font-size="9.5" text-anchor="end" font-weight="bold" fill="#000" >25</text>
<text x="284.4" y="405" font-size="9.5" text-anchor="end" font-weight="bold" fill="#000" >30</text>
<text x="289.9" y="560.2" font-size="9.5" text-anchor="middle" font-weight="bold" fill="#000" >0</text>
<text x="319.9" y="560.2" font-size="9.5" text-anchor="middle" font-weight="bold" fill="#000" >10</text>
<text x="349.9" y="560.2" font-size="9.5" text-anchor="middle" font-weight="bold" fill="#000" >20</text>
<text x="379.9" y="560.2" font-size="9.5" text-anchor="middle" font-weight="bold" fill="#000" >30</text>
<text x="409.9" y="560.2" font-size="9.5" text-anchor="middle" font-weight="bold" fill="#000" >40</text>
<text x="439.9" y="560.2" font-size="9.5" text-anchor="middle" font-weight="bold" fill="#000" >50</text>
<text x="469.9" y="560.2" font-size="9.5" text-anchor="middle" font-weight="bold" fill="#000" >60</text>
<text transform="translate(267.7 466) rotate(-90)" font-size="13.8" text-anchor="middle" font-weight="bold">Pressue (kPa)</text>
<text x="389" y="573.7" font-size="13.8" text-anchor="middle" font-weight="bold" fill="#000" >Compressive Strain (%)</text>
<text x="250.7" y="391.1" font-size="20.5" text-anchor="start" font-weight="bold" fill="#000" >(h)</text>
<line x1="426.2" y1="510" x2="447.7" y2="510" stroke="#4a4a4a" stroke-width="1.3" />
<text x="453" y="513.1" font-size="9" font-weight="bold">PP<tspan font-size="6" dy="2.2"></tspan></text>
<line x1="426.2" y1="521.3" x2="447.7" y2="521.3" stroke="#f03c3c" stroke-width="1.3" />
<text x="453" y="524.4" font-size="9" font-weight="bold">PPN<tspan font-size="6" dy="2.2">0.4</tspan></text>
<line x1="426.2" y1="535.4" x2="447.7" y2="535.4" stroke="#2272e8" stroke-width="1.3" />
<text x="453" y="538.5" font-size="9" font-weight="bold">PPN<tspan font-size="6" dy="2.2">0.8</tspan></text>
<path d="M537.2 530 L537.2 490.79 L537.7 490.73 L538.2 490.63 L538.7 490.73 L539.2 490.62 L539.7 490.64 L540.2 490.65 L540.7 490.63 L541.2 490.6 L541.7 490.78 L542.2 490.75 L542.7 490.87 L543.2 490.59 L543.7 490.48 L544.2 490.63 L544.7 490.78 L545.2 490.88 L545.7 490.74 L546.2 490.48 L546.7 490.66 L547.2 490.74 L547.7 490.74 L548.2 490.66 L548.7 490.53 L549.2 490.69 L549.7 490.76 L550.2 490.64 L550.7 490.92 L551.2 490.68 L551.7 490.77 L552.2 490.63 L552.7 490.64 L553.2 490.58 L553.7 490.95 L554.2 490.69 L554.7 490.84 L555.2 490.74 L555.7 490.96 L556.2 491.01 L556.7 490.69 L557.2 491.06 L557.7 490.83 L558.2 491.04 L558.7 490.78 L559.2 490.84 L559.7 490.63 L560.2 490.77 L560.7 490.62 L561.2 490.76 L561.7 490.94 L562.2 490.66 L562.7 490.73 L563.2 491.11 L563.7 490.95 L564.2 490.96 L564.7 490.76 L565.2 491.17 L565.7 490.8 L566.2 490.7 L566.7 490.91 L567.2 491 L567.7 491.02 L568.2 490.74 L568.7 491.17 L569.2 490.87 L569.7 491.28 L570.2 490.91 L570.7 490.7 L571.2 490.71 L571.7 490.92 L572.2 491.13 L572.7 491 L573.2 491.24 L573.7 491.27 L574.2 491.26 L574.7 491.12 L575.2 491.31 L575.7 491.18 L576.2 490.79 L576.7 490.94 L577.2 490.89 L577.7 490.8 L578.2 491.35 L578.7 491.09 L579.2 490.88 L579.7 491.33 L580.2 491.01 L580.7 490.93 L581.2 491.26 L581.7 490.89 L582.2 491.43 L582.7 491.43 L583.2 490.83 L583.7 491.18 L584.2 490.82 L584.7 491.45 L585.2 490.99 L585.7 491.17 L586.2 491.34 L586.7 491.36 L587.2 491.17 L587.7 490.9 L588.2 491.06 L588.7 490.84 L589.2 490.98 L589.7 491.39 L590.2 491.28 L590.7 491.18 L591.2 491.34 L591.7 491.21 L592.2 491.14 L592.7 491.16 L593.2 491.16 L593.7 491.17 L594.2 491.22 L594.7 491.5 L595.2 491.59 L595.7 491.58 L596.2 491.26 L596.7 491.61 L597.2 491.53 L597.7 491.03 L598.2 491.57 L598.7 490.98 L599.2 491.41 L599.7 491.23 L600.2 491.53 L600.7 491.56 L601.2 491.71 L601.7 491.69 L602.2 491.26 L602.7 490.97 L603.2 491.02 L603.7 491.76 L604.2 491.23 L604.7 491.16 L605.2 491.07 L605.7 491.28 L606.2 491.26 L606.7 491.61 L607.2 491.14 L607.7 491.38 L608.2 491.76 L608.7 491.38 L609.2 491.14 L609.7 491.37 L610.2 491.23 L610.7 491.04 L611.2 491.52 L611.7 491.29 L612.2 491.74 L612.7 491.27 L613.2 491.14 L613.7 491.45 L614.2 491.48 L614.7 491.19 L615.2 491.52 L615.7 491.63 L616.2 491.78 L616.7 491.91 L617.2 491.58 L617.7 491.84 L618.2 491.19 L618.7 491.78 L619.2 491.99 L619.7 491.5 L620.2 491.34 L620.7 491.33 L621.2 491.33 L621.7 491.48 L622.2 491.51 L622.7 491.28 L623.2 491.91 L623.7 492.06 L624.2 491.27 L624.7 491.75 L625.2 491.57 L625.7 491.64 L626.2 491.64 L626.7 491.59 L627.2 491.93 L627.7 492.08 L628.2 491.45 L628.7 491.53 L629.2 491.22 L629.7 491.59 L630.2 491.46 L630.7 491.37 L631.2 492.03 L631.7 491.72 L632.2 491.43 L632.7 491.38 L633.2 491.82 L633.7 492.05 L634.2 492.12 L634.7 491.97 L635.2 492.01 L635.7 491.41 L636.2 491.38 L636.7 491.93 L637.2 491.89 L637.7 491.45 L638.2 491.57 L638.7 491.27 L639.2 491.99 L639.7 491.81 L640.2 492.16 L640.7 492.24 L641.2 491.83 L641.7 491.65 L642.2 491.59 L642.7 491.97 L643.2 492.31 L643.7 491.4 L644.2 491.75 L644.7 492.13 L645.2 491.46 L645.7 492.04 L646.2 491.59 L646.7 491.94 L647.2 492.41 L647.7 491.37 L648.2 492.11 L648.7 491.98 L649.2 492.3 L649.7 491.75 L650.2 492.4 L650.7 492.44 L651.2 491.44 L651.7 491.77 L652.2 491.65 L652.7 492.32 L653.2 492.42 L653.7 492.27 L654.2 492.38 L654.7 492.05 L655.2 492.43 L655.7 491.74 L656.2 491.53 L656.7 492.26 L657.2 491.93 L657.7 491.45 L658.2 492.36 L658.7 491.58 L659.2 491.72 L659.7 491.54 L660.2 492.17 L660.7 491.64 L661.2 491.82 L661.7 492.11 L662.2 492.6 L662.7 491.48 L663.2 492.58 L663.7 492.36 L664.2 491.79 L664.7 492.49 L665.2 492.25 L665.7 492.05 L666.2 491.78 L666.7 492.04 L667.2 491.93 L667.7 491.62 L668.2 491.73 L668.7 491.85 L669.2 492.09 L669.7 492.25 L670.2 492.47 L670.7 491.67 L671.2 491.68 L671.7 492.64 L672.2 492.22 L672.7 491.83 L673.2 491.84 L673.7 492.4 L674.2 492.14 L674.7 492.07 L675.2 492.78 L675.7 491.59 L676.2 492.39 L676.7 492.47 L677.2 492.35 L677.7 492.37 L678.2 491.64 L678.7 492.85 L679.2 491.67 L679.7 492.08 L680.2 492.13 L680.7 492.71 L681.2 492.56 L681.7 492.73 L682.2 492.37 L682.7 492.93 L683.2 492.06 L683.7 492.17 L684.2 492.39 L684.7 492.08 L685.2 491.85 L685.7 492.57 L686.2 492.13 L686.7 492.84 L687.2 492.56 L687.7 491.69 L688.2 491.82 L688.7 491.94 L689.2 492.13 L689.7 491.96 L690.2 492.61 L690.7 492.01 L691.2 492.28 L691.7 492.25 L692.2 493.09 L692.7 492.34 L693.2 491.78 L693.7 493.09 L694.2 493.08 L694.7 491.79 L695.2 492.95 L695.7 492.61 L696.2 493.04 L696.7 492.63 L697.2 492.64 L697.7 492.9 L698.2 491.81 L698.7 491.91 L699.2 491.94 L699.7 491.79 L700.2 492.12 L700.7 491.84 L701.2 491.95 L701.7 492.29 L702.2 492.04 L702.7 491.89 L703.2 493.2 L703.7 493.15 L704.2 493.13 L704.7 491.94 L705.2 492.68 L705.7 493.19 L706.2 492.48 L706.7 492.59 L707.2 493.14 L707.7 493.2 L708.2 492.7 L708.7 492.26 L709.2 492.95 L709.7 492.96 L710.2 492.29 L710.7 492.55 L711.2 492.92 L711.7 492.21 L712.2 492.46 L712.7 492.71 L713.2 492.44 L713.7 493.25 L714.2 492.36 L714.7 492.63 L715.2 493.16 L715.7 491.96 L716.2 492.43 L716.7 492.21 L717.2 492.76 L717.7 493.42 L718.2 492.54 L718.7 493.37 L719.2 492.19 L719.7 493.42 L720.2 492.45 L720.7 492.46 L721.2 492.38 L721.7 493.34 L722.2 492.3 L722.7 492.06 L723.2 492.01 L723.7 494.45 L724.2 494.54 L724.7 494.14 L725.2 494.64 L725.7 494.42 L726.2 494.93 L726.5 530 Z" fill="#000"/>
<line x1="573.48" y1="490.91" x2="573.48" y2="492.58" stroke="#ddd" stroke-width="0.5" />
<line x1="581.2" y1="490.97" x2="581.2" y2="492.98" stroke="#999" stroke-width="0.5" />
<line x1="585.12" y1="491" x2="585.12" y2="493.04" stroke="#ddd" stroke-width="0.5" />
<line x1="590.32" y1="491.05" x2="590.32" y2="492.96" stroke="#777" stroke-width="0.5" />
<line x1="591.74" y1="491.06" x2="591.74" y2="493.09" stroke="#777" stroke-width="0.5" />
<line x1="592.94" y1="491.07" x2="592.94" y2="492.99" stroke="#bbb" stroke-width="0.5" />
<line x1="594.19" y1="491.08" x2="594.19" y2="492.82" stroke="#ddd" stroke-width="0.5" />
<line x1="597.98" y1="491.11" x2="597.98" y2="493.3" stroke="#999" stroke-width="0.5" />
<line x1="598.9" y1="491.12" x2="598.9" y2="493.31" stroke="#ddd" stroke-width="0.5" />
<line x1="604.63" y1="491.17" x2="604.63" y2="493.02" stroke="#ddd" stroke-width="0.5" />
<line x1="605.89" y1="491.18" x2="605.89" y2="492.83" stroke="#bbb" stroke-width="0.5" />
<line x1="606.87" y1="491.19" x2="606.87" y2="493.08" stroke="#bbb" stroke-width="0.5" />
<line x1="609.77" y1="491.21" x2="609.77" y2="493.29" stroke="#ddd" stroke-width="0.5" />
<line x1="612.19" y1="491.23" x2="612.19" y2="493.12" stroke="#999" stroke-width="0.5" />
<line x1="619.12" y1="491.29" x2="619.12" y2="493.14" stroke="#bbb" stroke-width="0.5" />
<line x1="620.43" y1="491.3" x2="620.43" y2="493.06" stroke="#999" stroke-width="0.5" />
<line x1="623.02" y1="491.33" x2="623.02" y2="493.3" stroke="#999" stroke-width="0.5" />
<line x1="625.07" y1="491.34" x2="625.07" y2="493.72" stroke="#999" stroke-width="0.5" />
<line x1="626.5" y1="491.35" x2="626.5" y2="493.42" stroke="#ddd" stroke-width="0.5" />
<line x1="629.41" y1="491.38" x2="629.41" y2="493.17" stroke="#999" stroke-width="0.5" />
<line x1="630.43" y1="491.39" x2="630.43" y2="493.49" stroke="#999" stroke-width="0.5" />
<line x1="631.41" y1="491.4" x2="631.41" y2="493.52" stroke="#777" stroke-width="0.5" />
<line x1="633.75" y1="491.42" x2="633.75" y2="493.8" stroke="#ddd" stroke-width="0.5" />
<line x1="634.76" y1="491.42" x2="634.76" y2="493.31" stroke="#999" stroke-width="0.5" />
<line x1="635.88" y1="491.43" x2="635.88" y2="493.98" stroke="#999" stroke-width="0.5" />
<line x1="637.06" y1="491.44" x2="637.06" y2="493.45" stroke="#999" stroke-width="0.5" />
<line x1="638.13" y1="491.45" x2="638.13" y2="493.87" stroke="#999" stroke-width="0.5" />
<line x1="640.48" y1="491.47" x2="640.48" y2="494.09" stroke="#bbb" stroke-width="0.5" />
<line x1="643.19" y1="491.5" x2="643.19" y2="493.77" stroke="#777" stroke-width="0.5" />
<line x1="644.87" y1="491.51" x2="644.87" y2="493.88" stroke="#bbb" stroke-width="0.5" />
<line x1="646.1" y1="491.52" x2="646.1" y2="493.94" stroke="#999" stroke-width="0.5" />
<line x1="647.64" y1="491.53" x2="647.64" y2="493.34" stroke="#ddd" stroke-width="0.5" />
<line x1="648.84" y1="491.54" x2="648.84" y2="494.18" stroke="#777" stroke-width="0.5" />
<line x1="650.19" y1="491.55" x2="650.19" y2="493.79" stroke="#777" stroke-width="0.5" />
<line x1="653.03" y1="491.58" x2="653.03" y2="494.3" stroke="#bbb" stroke-width="0.5" />
<line x1="654.24" y1="491.59" x2="654.24" y2="493.62" stroke="#777" stroke-width="0.5" />
<line x1="656.34" y1="491.61" x2="656.34" y2="494.1" stroke="#999" stroke-width="0.5" />
<line x1="657.39" y1="491.62" x2="657.39" y2="494.22" stroke="#777" stroke-width="0.5" />
<line x1="659.76" y1="491.64" x2="659.76" y2="493.52" stroke="#777" stroke-width="0.5" />
<line x1="663.33" y1="491.67" x2="663.33" y2="493.87" stroke="#bbb" stroke-width="0.5" />
<line x1="666.36" y1="491.69" x2="666.36" y2="494.64" stroke="#bbb" stroke-width="0.5" />
<line x1="667.59" y1="491.7" x2="667.59" y2="493.47" stroke="#999" stroke-width="0.5" />
<line x1="669.03" y1="491.71" x2="669.03" y2="494.5" stroke="#777" stroke-width="0.5" />
<line x1="670.97" y1="491.73" x2="670.97" y2="494.34" stroke="#bbb" stroke-width="0.5" />
<line x1="672.49" y1="491.74" x2="672.49" y2="493.61" stroke="#999" stroke-width="0.5" />
<line x1="677.01" y1="491.78" x2="677.01" y2="494.59" stroke="#777" stroke-width="0.5" />
<line x1="678.14" y1="491.79" x2="678.14" y2="494.74" stroke="#bbb" stroke-width="0.5" />
<line x1="679.79" y1="491.81" x2="679.79" y2="493.96" stroke="#ddd" stroke-width="0.5" />
<line x1="681.4" y1="491.82" x2="681.4" y2="494.49" stroke="#777" stroke-width="0.5" />
<line x1="683.68" y1="491.84" x2="683.68" y2="493.72" stroke="#999" stroke-width="0.5" />
<line x1="684.8" y1="491.85" x2="684.8" y2="493.79" stroke="#999" stroke-width="0.5" />
<line x1="686.02" y1="491.86" x2="686.02" y2="494.14" stroke="#ddd" stroke-width="0.5" />
<line x1="688.39" y1="491.88" x2="688.39" y2="494.98" stroke="#bbb" stroke-width="0.5" />
<line x1="689.75" y1="491.89" x2="689.75" y2="493.9" stroke="#777" stroke-width="0.5" />
<line x1="691.18" y1="491.9" x2="691.18" y2="495.02" stroke="#999" stroke-width="0.5" />
<line x1="693.88" y1="491.92" x2="693.88" y2="494.94" stroke="#999" stroke-width="0.5" />
<line x1="695.56" y1="491.94" x2="695.56" y2="493.6" stroke="#ddd" stroke-width="0.5" />
<line x1="698.13" y1="491.96" x2="698.13" y2="494.74" stroke="#777" stroke-width="0.5" />
<line x1="699.83" y1="491.97" x2="699.83" y2="493.95" stroke="#999" stroke-width="0.5" />
<path d="M708.3 491 L709.6 496.3 L710.9 491 Z" fill="#fff"/>
<path d="M711.9 491 L713.2 496.3 L714.5 491 Z" fill="#fff"/>
<path d="M715.5 491 L716.8 496.3 L718.1 491 Z" fill="#fff"/>
<path d="M719 491 L720.3 496.3 L721.6 491 Z" fill="#fff"/>
<path d="M722.3 491 L723.6 496.3 L724.9 491 Z" fill="#fff"/>
<rect x="532.3" y="392.8" width="199.1" height="152.5" fill="none" stroke="#000" stroke-width="1.6"/>
<line x1="529" y1="529.6" x2="532.3" y2="529.6" stroke="#000" stroke-width="1.5" />
<line x1="529" y1="512.2" x2="532.3" y2="512.2" stroke="#000" stroke-width="1.5" />
<line x1="529" y1="494.8" x2="532.3" y2="494.8" stroke="#000" stroke-width="1.5" />
<line x1="529" y1="477.4" x2="532.3" y2="477.4" stroke="#000" stroke-width="1.5" />
<line x1="529" y1="460" x2="532.3" y2="460" stroke="#000" stroke-width="1.5" />
<line x1="529" y1="442.6" x2="532.3" y2="442.6" stroke="#000" stroke-width="1.5" />
<line x1="529" y1="425.2" x2="532.3" y2="425.2" stroke="#000" stroke-width="1.5" />
<line x1="529" y1="407.8" x2="532.3" y2="407.8" stroke="#000" stroke-width="1.5" />
<line x1="530.3" y1="538.3" x2="532.3" y2="538.3" stroke="#000" stroke-width="1.5" />
<line x1="530.3" y1="520.9" x2="532.3" y2="520.9" stroke="#000" stroke-width="1.5" />
<line x1="530.3" y1="503.5" x2="532.3" y2="503.5" stroke="#000" stroke-width="1.5" />
<line x1="530.3" y1="486.1" x2="532.3" y2="486.1" stroke="#000" stroke-width="1.5" />
<line x1="530.3" y1="468.7" x2="532.3" y2="468.7" stroke="#000" stroke-width="1.5" />
<line x1="530.3" y1="451.3" x2="532.3" y2="451.3" stroke="#000" stroke-width="1.5" />
<line x1="530.3" y1="433.9" x2="532.3" y2="433.9" stroke="#000" stroke-width="1.5" />
<line x1="530.3" y1="416.5" x2="532.3" y2="416.5" stroke="#000" stroke-width="1.5" />
<line x1="530.3" y1="399.1" x2="532.3" y2="399.1" stroke="#000" stroke-width="1.5" />
<line x1="537.2" y1="545.3" x2="537.2" y2="548.6" stroke="#000" stroke-width="1.5" />
<line x1="581.2" y1="545.3" x2="581.2" y2="548.6" stroke="#000" stroke-width="1.5" />
<line x1="625.2" y1="545.3" x2="625.2" y2="548.6" stroke="#000" stroke-width="1.5" />
<line x1="669.2" y1="545.3" x2="669.2" y2="548.6" stroke="#000" stroke-width="1.5" />
<line x1="713.2" y1="545.3" x2="713.2" y2="548.6" stroke="#000" stroke-width="1.5" />
<line x1="559.2" y1="545.3" x2="559.2" y2="547.3" stroke="#000" stroke-width="1.5" />
<line x1="603.2" y1="545.3" x2="603.2" y2="547.3" stroke="#000" stroke-width="1.5" />
<line x1="647.2" y1="545.3" x2="647.2" y2="547.3" stroke="#000" stroke-width="1.5" />
<line x1="691.2" y1="545.3" x2="691.2" y2="547.3" stroke="#000" stroke-width="1.5" />
<text x="526.8" y="532.4" font-size="9.5" text-anchor="end" font-weight="bold" fill="#000" >0</text>
<text x="526.8" y="515" font-size="9.5" text-anchor="end" font-weight="bold" fill="#000" >1</text>
<text x="526.8" y="497.6" font-size="9.5" text-anchor="end" font-weight="bold" fill="#000" >2</text>
<text x="526.8" y="480.2" font-size="9.5" text-anchor="end" font-weight="bold" fill="#000" >3</text>
<text x="526.8" y="462.8" font-size="9.5" text-anchor="end" font-weight="bold" fill="#000" >4</text>
<text x="526.8" y="445.4" font-size="9.5" text-anchor="end" font-weight="bold" fill="#000" >5</text>
<text x="526.8" y="428" font-size="9.5" text-anchor="end" font-weight="bold" fill="#000" >6</text>
<text x="526.8" y="410.6" font-size="9.5" text-anchor="end" font-weight="bold" fill="#000" >7</text>
<text x="537.2" y="558.4" font-size="9.5" text-anchor="middle" font-weight="bold" fill="#000" >0</text>
<text x="581.2" y="558.4" font-size="9.5" text-anchor="middle" font-weight="bold" fill="#000" >1000</text>
<text x="625.2" y="558.4" font-size="9.5" text-anchor="middle" font-weight="bold" fill="#000" >2000</text>
<text x="669.2" y="558.4" font-size="9.5" text-anchor="middle" font-weight="bold" fill="#000" >3000</text>
<text x="713.2" y="558.4" font-size="9.5" text-anchor="middle" font-weight="bold" fill="#000" >4000</text>
<text transform="translate(516.1 465.1) rotate(-90)" font-size="13.6" text-anchor="middle" font-weight="bold">Pressure (kPa)</text>
<text x="631" y="573.6" font-size="13.5" text-anchor="middle" font-weight="bold" fill="#000" >Time (s)</text>
<text x="501.9" y="391.1" font-size="20.5" text-anchor="start" font-weight="bold" fill="#000" >(i)</text>
<rect x="559.6" y="403.5" width="60.4" height="46.3" fill="#fff" stroke="#555" stroke-width="0.8"/>
<line x1="557.8" y1="415.2" x2="559.6" y2="415.2" stroke="#333" stroke-width="0.7" />
<text x="557.1" y="417.9" font-size="7.6" text-anchor="end" font-weight="bold" fill="#000" >2</text>
<line x1="557.8" y1="430.3" x2="559.6" y2="430.3" stroke="#333" stroke-width="0.7" />
<text x="557.1" y="433" font-size="7.6" text-anchor="end" font-weight="bold" fill="#000" >1</text>
<line x1="557.8" y1="445.4" x2="559.6" y2="445.4" stroke="#333" stroke-width="0.7" />
<text x="557.1" y="448.1" font-size="7.6" text-anchor="end" font-weight="bold" fill="#000" >0</text>
<text x="565.5" y="457.4" font-size="7.6" text-anchor="middle" font-weight="bold" fill="#000" >500</text>
<text x="585.3" y="457.4" font-size="7.6" text-anchor="middle" font-weight="bold" fill="#000" >510</text>
<text x="604.9" y="457.4" font-size="7.6" text-anchor="middle" font-weight="bold" fill="#000" >520</text>
<path d="M563 445.6 L564 444.1 L564.9 437.6 L567.2 414.1 L567.7 411.6 L568.2 414.1 L570 437.6 L570.9 444.1 L571.9 445.6 L572.9 444.1 L573.8 437.6 L576 414.1 L576.5 411.6 L577 414.1 L578.9 437.6 L579.8 444.1 L580.8 445.6 L581.8 444.1 L582.7 437.6 L584.8 414.1 L585.3 411.6 L585.8 414.1 L587.9 437.6 L588.8 444.1 L589.8 445.6 L590.8 444.1 L591.7 437.6 L593.8 414.1 L594.3 411.6 L594.8 414.1 L596.8 437.6 L597.7 444.1 L598.7 445.6 L599.7 444.1 L600.6 437.6 L602.7 414.1 L603.2 411.6 L603.7 414.1 L605.8 437.6 L606.7 444.1 L607.7 445.6 L608.7 444.1 L609.6 437.6 L611.6 414.1 L612.1 411.6 L612.6 414.1 L614.7 437.6 L615.6 444.1 L616.6 445.6" fill="none" stroke="#222" stroke-width="0.75" stroke-linejoin="round" stroke-linecap="round" />
<rect x="652.2" y="403.2" width="60.7" height="46.1" fill="#fff" stroke="#555" stroke-width="0.8"/>
<line x1="650.4" y1="413.7" x2="652.2" y2="413.7" stroke="#333" stroke-width="0.7" />
<text x="649.7" y="416.4" font-size="7.6" text-anchor="end" font-weight="bold" fill="#000" >2</text>
<line x1="650.4" y1="429.5" x2="652.2" y2="429.5" stroke="#333" stroke-width="0.7" />
<text x="649.7" y="432.2" font-size="7.6" text-anchor="end" font-weight="bold" fill="#000" >1</text>
<line x1="650.4" y1="445.1" x2="652.2" y2="445.1" stroke="#333" stroke-width="0.7" />
<text x="649.7" y="447.8" font-size="7.6" text-anchor="end" font-weight="bold" fill="#000" >0</text>
<text x="657.2" y="457.2" font-size="7.6" text-anchor="middle" font-weight="bold" fill="#000" >3810</text>
<text x="676.5" y="457.2" font-size="7.6" text-anchor="middle" font-weight="bold" fill="#000" >3820</text>
<text x="695.8" y="457.2" font-size="7.6" text-anchor="middle" font-weight="bold" fill="#000" >3830</text>
<path d="M656.4 445 L657.4 443.5 L658.3 437 L660.9 416.2 L661.4 413.7 L661.9 416.2 L664.1 437 L665 443.5 L666 445 L667 443.5 L667.9 437 L670.2 418.7 L670.7 416.2 L671.2 418.7 L673 437 L673.9 443.5 L674.9 445 L675.9 443.5 L676.8 437 L679.4 415.4 L679.9 412.9 L680.4 415.4 L682.2 437 L683.1 443.5 L684.1 445 L685.1 443.5 L686 437 L688.1 413.9 L688.6 411.4 L689.1 413.9 L690.9 437 L691.8 443.5 L692.8 445 L693.8 443.5 L694.7 437 L696.7 413.9 L697.2 411.4 L697.7 413.9 L699.8 437 L700.7 443.5 L701.7 445 L702.7 443.5 L703.6 437 L705.4 414.8 L705.9 412.3 L706.4 414.8 L708.2 437 L709.1 443.5 L710.1 445" fill="none" stroke="#222" stroke-width="0.75" stroke-linejoin="round" stroke-linecap="round" />
<rect x="557.5" y="488" width="4" height="43.3" fill="none" stroke="#f01818" stroke-width="1.1" stroke-dasharray="1.3 0.9"/>
<line x1="557.7" y1="451" x2="557.5" y2="488" stroke="#f01818" stroke-width="1.4" stroke-dasharray="1.3 0.9"/>
<line x1="622" y1="452" x2="561.5" y2="488" stroke="#f01818" stroke-width="1.4" stroke-dasharray="1.3 0.9"/>
<rect x="701.5" y="488" width="5" height="43.3" fill="none" stroke="#f01818" stroke-width="1.1" stroke-dasharray="1.3 0.9"/>
<line x1="648" y1="450.5" x2="701.5" y2="488" stroke="#f01818" stroke-width="1.4" stroke-dasharray="1.3 0.9"/>
<line x1="712.6" y1="450.5" x2="706.5" y2="488" stroke="#f01818" stroke-width="1.4" stroke-dasharray="1.3 0.9"/>
<rect x="745.7" y="0" width="1.3" height="584" fill="#000"/>
</svg>
</body></html>
